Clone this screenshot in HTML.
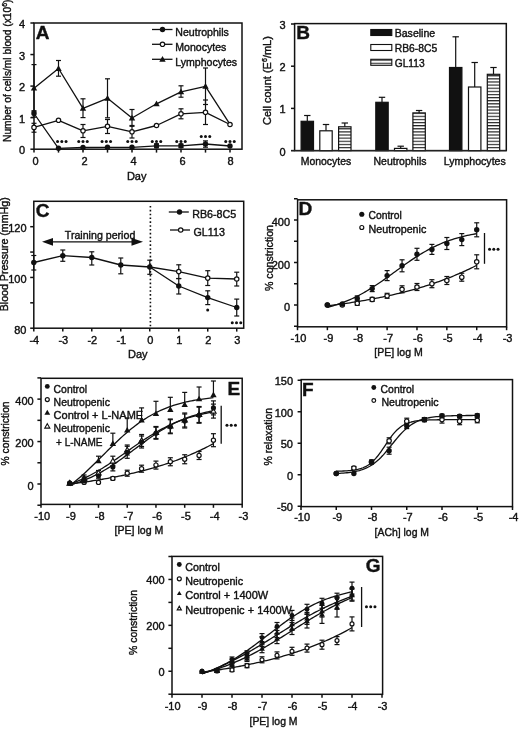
<!DOCTYPE html>
<html><head><meta charset="utf-8"><style>
html,body{margin:0;padding:0;background:#fff;}
svg{display:block;will-change:transform;filter:blur(0.3px);}
text{font-family:"Liberation Sans", sans-serif;stroke:#111;stroke-width:0.4px;}
</style></head><body>
<svg width="520" height="731" viewBox="0 0 520 731">
<rect width="520" height="731" fill="#fff"/>
<rect x="34" y="23" width="208" height="126.2" fill="none" stroke="#111" stroke-width="1.5"/>
<line x1="30.4" y1="149.2" x2="34" y2="149.2" stroke="#111" stroke-width="1.5" />
<line x1="30.4" y1="117.65" x2="34" y2="117.65" stroke="#111" stroke-width="1.5" />
<line x1="30.4" y1="86.1" x2="34" y2="86.1" stroke="#111" stroke-width="1.5" />
<line x1="30.4" y1="54.55" x2="34" y2="54.55" stroke="#111" stroke-width="1.5" />
<line x1="30.4" y1="23" x2="34" y2="23" stroke="#111" stroke-width="1.5" />
<line x1="34" y1="149.2" x2="34" y2="152.6" stroke="#111" stroke-width="1.5" />
<line x1="58.5" y1="149.2" x2="58.5" y2="152.6" stroke="#111" stroke-width="1.5" />
<line x1="83" y1="149.2" x2="83" y2="152.6" stroke="#111" stroke-width="1.5" />
<line x1="107.5" y1="149.2" x2="107.5" y2="152.6" stroke="#111" stroke-width="1.5" />
<line x1="132" y1="149.2" x2="132" y2="152.6" stroke="#111" stroke-width="1.5" />
<line x1="156.5" y1="149.2" x2="156.5" y2="152.6" stroke="#111" stroke-width="1.5" />
<line x1="181" y1="149.2" x2="181" y2="152.6" stroke="#111" stroke-width="1.5" />
<line x1="205.5" y1="149.2" x2="205.5" y2="152.6" stroke="#111" stroke-width="1.5" />
<line x1="230" y1="149.2" x2="230" y2="152.6" stroke="#111" stroke-width="1.5" />
<text x="25" y="154.2" font-size="11" text-anchor="end" fill="#111">0</text>
<text x="25" y="122.65" font-size="11" text-anchor="end" fill="#111">1</text>
<text x="25" y="91.1" font-size="11" text-anchor="end" fill="#111">2</text>
<text x="25" y="59.55" font-size="11" text-anchor="end" fill="#111">3</text>
<text x="25" y="28" font-size="11" text-anchor="end" fill="#111">4</text>
<text x="35.6" y="164.6" font-size="11" text-anchor="middle" fill="#111">0</text>
<text x="84.6" y="164.6" font-size="11" text-anchor="middle" fill="#111">2</text>
<text x="133.6" y="164.6" font-size="11" text-anchor="middle" fill="#111">4</text>
<text x="182.6" y="164.6" font-size="11" text-anchor="middle" fill="#111">6</text>
<text x="230.5" y="164.6" font-size="11" text-anchor="middle" fill="#111">8</text>
<text x="136.7" y="179.5" font-size="11" text-anchor="middle" fill="#111">Day</text>
<text x="10.5" y="142" font-size="11" textLength="142.5" lengthAdjust="spacingAndGlyphs" transform="rotate(-90 10.5 142)" fill="#111">Number of cells/ml blood (x10<tspan font-size="7.5" dy="-4">6</tspan><tspan dy="4">)</tspan></text>
<text x="35.8" y="38.9" font-size="19" font-weight="bold" fill="#111">A</text>
<line x1="34" y1="64.6" x2="34" y2="111.8" stroke="#111" stroke-width="1.2" />
<line x1="31.5" y1="64.6" x2="36.5" y2="64.6" stroke="#111" stroke-width="1.2" />
<line x1="31.5" y1="111.8" x2="36.5" y2="111.8" stroke="#111" stroke-width="1.2" />
<line x1="58.5" y1="60.5" x2="58.5" y2="76.2" stroke="#111" stroke-width="1.2" />
<line x1="56" y1="60.5" x2="61" y2="60.5" stroke="#111" stroke-width="1.2" />
<line x1="56" y1="76.2" x2="61" y2="76.2" stroke="#111" stroke-width="1.2" />
<line x1="83" y1="98.8" x2="83" y2="117.6" stroke="#111" stroke-width="1.2" />
<line x1="80.5" y1="98.8" x2="85.5" y2="98.8" stroke="#111" stroke-width="1.2" />
<line x1="80.5" y1="117.6" x2="85.5" y2="117.6" stroke="#111" stroke-width="1.2" />
<line x1="107.5" y1="78.8" x2="107.5" y2="117.8" stroke="#111" stroke-width="1.2" />
<line x1="105" y1="78.8" x2="110" y2="78.8" stroke="#111" stroke-width="1.2" />
<line x1="105" y1="117.8" x2="110" y2="117.8" stroke="#111" stroke-width="1.2" />
<line x1="132" y1="109.5" x2="132" y2="126.3" stroke="#111" stroke-width="1.2" />
<line x1="129.5" y1="109.5" x2="134.5" y2="109.5" stroke="#111" stroke-width="1.2" />
<line x1="129.5" y1="126.3" x2="134.5" y2="126.3" stroke="#111" stroke-width="1.2" />
<line x1="181" y1="85.8" x2="181" y2="97.2" stroke="#111" stroke-width="1.2" />
<line x1="178.5" y1="85.8" x2="183.5" y2="85.8" stroke="#111" stroke-width="1.2" />
<line x1="178.5" y1="97.2" x2="183.5" y2="97.2" stroke="#111" stroke-width="1.2" />
<line x1="205.5" y1="68" x2="205.5" y2="104.5" stroke="#111" stroke-width="1.2" />
<line x1="203" y1="68" x2="208" y2="68" stroke="#111" stroke-width="1.2" />
<line x1="203" y1="104.5" x2="208" y2="104.5" stroke="#111" stroke-width="1.2" />
<polyline points="34,88.2 58.5,68.5 83,108.3 107.5,98.3 132,118 156.5,103.8 181,91.8 205.5,86.3 230,124.3" fill="none" stroke="#111" stroke-width="1.3" stroke-linejoin="round"/>
<line x1="34" y1="123.3" x2="34" y2="132.2" stroke="#111" stroke-width="1.2" />
<line x1="31.5" y1="123.3" x2="36.5" y2="123.3" stroke="#111" stroke-width="1.2" />
<line x1="31.5" y1="132.2" x2="36.5" y2="132.2" stroke="#111" stroke-width="1.2" />
<line x1="83" y1="124.5" x2="83" y2="137.5" stroke="#111" stroke-width="1.2" />
<line x1="80.5" y1="124.5" x2="85.5" y2="124.5" stroke="#111" stroke-width="1.2" />
<line x1="80.5" y1="137.5" x2="85.5" y2="137.5" stroke="#111" stroke-width="1.2" />
<line x1="107.5" y1="119.5" x2="107.5" y2="133.5" stroke="#111" stroke-width="1.2" />
<line x1="105" y1="119.5" x2="110" y2="119.5" stroke="#111" stroke-width="1.2" />
<line x1="105" y1="133.5" x2="110" y2="133.5" stroke="#111" stroke-width="1.2" />
<line x1="132" y1="125.5" x2="132" y2="138" stroke="#111" stroke-width="1.2" />
<line x1="129.5" y1="125.5" x2="134.5" y2="125.5" stroke="#111" stroke-width="1.2" />
<line x1="129.5" y1="138" x2="134.5" y2="138" stroke="#111" stroke-width="1.2" />
<line x1="181" y1="108.8" x2="181" y2="118.8" stroke="#111" stroke-width="1.2" />
<line x1="178.5" y1="108.8" x2="183.5" y2="108.8" stroke="#111" stroke-width="1.2" />
<line x1="178.5" y1="118.8" x2="183.5" y2="118.8" stroke="#111" stroke-width="1.2" />
<line x1="205.5" y1="100" x2="205.5" y2="124.5" stroke="#111" stroke-width="1.2" />
<line x1="203" y1="100" x2="208" y2="100" stroke="#111" stroke-width="1.2" />
<line x1="203" y1="124.5" x2="208" y2="124.5" stroke="#111" stroke-width="1.2" />
<polyline points="34,127.4 58.5,120.3 83,130.8 107.5,126.3 132,131.8 156.5,125.5 181,113.8 205.5,112.3 230,124.5" fill="none" stroke="#111" stroke-width="1.3" stroke-linejoin="round"/>
<line x1="34" y1="110.7" x2="34" y2="117.2" stroke="#111" stroke-width="1.2" />
<line x1="31.5" y1="110.7" x2="36.5" y2="110.7" stroke="#111" stroke-width="1.2" />
<line x1="31.5" y1="117.2" x2="36.5" y2="117.2" stroke="#111" stroke-width="1.2" />
<line x1="156.5" y1="143.8" x2="156.5" y2="147.8" stroke="#111" stroke-width="1.2" />
<line x1="154" y1="143.8" x2="159" y2="143.8" stroke="#111" stroke-width="1.2" />
<line x1="154" y1="147.8" x2="159" y2="147.8" stroke="#111" stroke-width="1.2" />
<line x1="181" y1="144" x2="181" y2="147.6" stroke="#111" stroke-width="1.2" />
<line x1="178.5" y1="144" x2="183.5" y2="144" stroke="#111" stroke-width="1.2" />
<line x1="178.5" y1="147.6" x2="183.5" y2="147.6" stroke="#111" stroke-width="1.2" />
<line x1="205.5" y1="140.9" x2="205.5" y2="147.2" stroke="#111" stroke-width="1.2" />
<line x1="203" y1="140.9" x2="208" y2="140.9" stroke="#111" stroke-width="1.2" />
<line x1="203" y1="147.2" x2="208" y2="147.2" stroke="#111" stroke-width="1.2" />
<polyline points="34,113.5 58.5,148.3 83,147.5 107.5,147.3 132,147.3 156.5,145.8 181,145.8 205.5,144 230,146" fill="none" stroke="#111" stroke-width="1.3" stroke-linejoin="round"/>
<polygon points="34,85 37.2,90.6 30.8,90.6" fill="#111"/>
<polygon points="58.5,65.3 61.7,70.9 55.3,70.9" fill="#111"/>
<polygon points="83,105.1 86.2,110.7 79.8,110.7" fill="#111"/>
<polygon points="107.5,95.1 110.7,100.7 104.3,100.7" fill="#111"/>
<polygon points="132,114.8 135.2,120.4 128.8,120.4" fill="#111"/>
<polygon points="156.5,100.6 159.7,106.2 153.3,106.2" fill="#111"/>
<polygon points="181,88.6 184.2,94.2 177.8,94.2" fill="#111"/>
<polygon points="205.5,83.1 208.7,88.7 202.3,88.7" fill="#111"/>
<circle cx="34" cy="127.4" r="2.2" fill="#fff" stroke="#111" stroke-width="1.2"/>
<circle cx="58.5" cy="120.3" r="2.2" fill="#fff" stroke="#111" stroke-width="1.2"/>
<circle cx="83" cy="130.8" r="2.2" fill="#fff" stroke="#111" stroke-width="1.2"/>
<circle cx="107.5" cy="126.3" r="2.2" fill="#fff" stroke="#111" stroke-width="1.2"/>
<circle cx="132" cy="131.8" r="2.2" fill="#fff" stroke="#111" stroke-width="1.2"/>
<circle cx="156.5" cy="125.5" r="2.2" fill="#fff" stroke="#111" stroke-width="1.2"/>
<circle cx="181" cy="113.8" r="2.2" fill="#fff" stroke="#111" stroke-width="1.2"/>
<circle cx="205.5" cy="112.3" r="2.2" fill="#fff" stroke="#111" stroke-width="1.2"/>
<circle cx="230" cy="124.5" r="2.2" fill="#fff" stroke="#111" stroke-width="1.2"/>
<circle cx="34" cy="113.5" r="2.7" fill="#111"/>
<circle cx="58.5" cy="148.3" r="2.7" fill="#111"/>
<circle cx="83" cy="147.5" r="2.7" fill="#111"/>
<circle cx="107.5" cy="147.3" r="2.7" fill="#111"/>
<circle cx="132" cy="147.3" r="2.7" fill="#111"/>
<circle cx="156.5" cy="145.8" r="2.7" fill="#111"/>
<circle cx="181" cy="145.8" r="2.7" fill="#111"/>
<circle cx="205.5" cy="144" r="2.7" fill="#111"/>
<circle cx="230" cy="146" r="2.7" fill="#111"/>
<circle cx="57.55" cy="141.4" r="1.5" fill="#111"/>
<circle cx="61.8" cy="141.4" r="1.5" fill="#111"/>
<circle cx="66.05" cy="141.4" r="1.5" fill="#111"/>
<circle cx="78.75" cy="141.4" r="1.5" fill="#111"/>
<circle cx="83" cy="141.4" r="1.5" fill="#111"/>
<circle cx="87.25" cy="141.4" r="1.5" fill="#111"/>
<circle cx="102.05" cy="141.4" r="1.5" fill="#111"/>
<circle cx="106.3" cy="141.4" r="1.5" fill="#111"/>
<circle cx="110.55" cy="141.4" r="1.5" fill="#111"/>
<circle cx="127.75" cy="141.4" r="1.5" fill="#111"/>
<circle cx="132" cy="141.4" r="1.5" fill="#111"/>
<circle cx="136.25" cy="141.4" r="1.5" fill="#111"/>
<circle cx="152.25" cy="141.4" r="1.5" fill="#111"/>
<circle cx="156.5" cy="141.4" r="1.5" fill="#111"/>
<circle cx="160.75" cy="141.4" r="1.5" fill="#111"/>
<circle cx="176.75" cy="141.4" r="1.5" fill="#111"/>
<circle cx="181" cy="141.4" r="1.5" fill="#111"/>
<circle cx="185.25" cy="141.4" r="1.5" fill="#111"/>
<circle cx="201.25" cy="136.4" r="1.5" fill="#111"/>
<circle cx="205.5" cy="136.4" r="1.5" fill="#111"/>
<circle cx="209.75" cy="136.4" r="1.5" fill="#111"/>
<circle cx="225.75" cy="141.4" r="1.5" fill="#111"/>
<circle cx="230" cy="141.4" r="1.5" fill="#111"/>
<circle cx="234.25" cy="141.4" r="1.5" fill="#111"/>
<line x1="152" y1="29.5" x2="172.5" y2="29.5" stroke="#111" stroke-width="1.3" />
<circle cx="162.5" cy="29.5" r="2.7" fill="#111"/>
<text x="175.3" y="36.4" font-size="11" textLength="53.5" lengthAdjust="spacingAndGlyphs" fill="#111">Neutrophils</text>
<line x1="152" y1="44.3" x2="172.5" y2="44.3" stroke="#111" stroke-width="1.3" />
<circle cx="162.5" cy="44.3" r="2.2" fill="#fff" stroke="#111" stroke-width="1.2"/>
<text x="175.3" y="51.2" font-size="11" textLength="51" lengthAdjust="spacingAndGlyphs" fill="#111">Monocytes</text>
<line x1="152" y1="59.3" x2="172.5" y2="59.3" stroke="#111" stroke-width="1.3" />
<polygon points="162.5,56.1 165.7,61.7 159.3,61.7" fill="#111"/>
<text x="175.3" y="66.2" font-size="11" textLength="61.8" lengthAdjust="spacingAndGlyphs" fill="#111">Lymphocytes</text>
<rect x="294.6" y="23.6" width="211.7" height="127" fill="none" stroke="#111" stroke-width="1.5"/>
<line x1="291" y1="150.6" x2="294.6" y2="150.6" stroke="#111" stroke-width="1.5" />
<line x1="291" y1="108.4" x2="294.6" y2="108.4" stroke="#111" stroke-width="1.5" />
<line x1="291" y1="66.2" x2="294.6" y2="66.2" stroke="#111" stroke-width="1.5" />
<line x1="291" y1="24" x2="294.6" y2="24" stroke="#111" stroke-width="1.5" />
<text x="285.7" y="155.6" font-size="11" text-anchor="end" fill="#111">0</text>
<text x="285.7" y="113.4" font-size="11" text-anchor="end" fill="#111">1</text>
<text x="285.7" y="71.2" font-size="11" text-anchor="end" fill="#111">2</text>
<text x="285.7" y="29" font-size="11" text-anchor="end" fill="#111">3</text>
<text x="271.4" y="125" font-size="11" transform="rotate(-90 271.4 125)" fill="#111">Cell count (E<tspan font-size="7" dy="-4">6</tspan><tspan dy="4">/mL)</tspan></text>
<text x="296.3" y="39.1" font-size="19" font-weight="bold" fill="#111">B</text>
<defs><pattern id="hs" patternUnits="userSpaceOnUse" width="4" height="3.12" y="0.3"><rect width="4" height="3.12" fill="#fff"/><rect width="4" height="1.15" fill="#222"/></pattern></defs>
<line x1="307.3" y1="115.5" x2="307.3" y2="121.3" stroke="#111" stroke-width="1.2" />
<line x1="304.1" y1="115.5" x2="310.5" y2="115.5" stroke="#111" stroke-width="1.2" />
<rect x="301.1" y="121.3" width="12.4" height="29.3" fill="#111" stroke="#111" stroke-width="1.2"/>
<line x1="326" y1="124.5" x2="326" y2="130.8" stroke="#111" stroke-width="1.2" />
<line x1="322.8" y1="124.5" x2="329.2" y2="124.5" stroke="#111" stroke-width="1.2" />
<rect x="319.8" y="130.8" width="12.4" height="19.8" fill="#fff" stroke="#111" stroke-width="1.2"/>
<line x1="344.8" y1="123" x2="344.8" y2="126.8" stroke="#111" stroke-width="1.2" />
<line x1="341.6" y1="123" x2="348" y2="123" stroke="#111" stroke-width="1.2" />
<rect x="338.6" y="126.8" width="12.4" height="23.8" fill="url(#hs)" stroke="#111" stroke-width="1.2"/>
<line x1="382" y1="97.3" x2="382" y2="102.3" stroke="#111" stroke-width="1.2" />
<line x1="378.8" y1="97.3" x2="385.2" y2="97.3" stroke="#111" stroke-width="1.2" />
<rect x="375.8" y="102.3" width="12.4" height="48.3" fill="#111" stroke="#111" stroke-width="1.2"/>
<line x1="400.7" y1="146.2" x2="400.7" y2="148.4" stroke="#111" stroke-width="1.2" />
<line x1="397.5" y1="146.2" x2="403.9" y2="146.2" stroke="#111" stroke-width="1.2" />
<rect x="394.5" y="148.4" width="12.4" height="2.2" fill="#fff" stroke="#111" stroke-width="1.2"/>
<line x1="419.1" y1="110.5" x2="419.1" y2="112.9" stroke="#111" stroke-width="1.2" />
<line x1="415.9" y1="110.5" x2="422.3" y2="110.5" stroke="#111" stroke-width="1.2" />
<rect x="412.9" y="112.9" width="12.4" height="37.7" fill="url(#hs)" stroke="#111" stroke-width="1.2"/>
<line x1="455.7" y1="36.8" x2="455.7" y2="67.5" stroke="#111" stroke-width="1.2" />
<line x1="452.5" y1="36.8" x2="458.9" y2="36.8" stroke="#111" stroke-width="1.2" />
<rect x="449.5" y="67.5" width="12.4" height="83.1" fill="#111" stroke="#111" stroke-width="1.2"/>
<line x1="474.7" y1="62.5" x2="474.7" y2="87" stroke="#111" stroke-width="1.2" />
<line x1="471.5" y1="62.5" x2="477.9" y2="62.5" stroke="#111" stroke-width="1.2" />
<rect x="468.5" y="87" width="12.4" height="63.6" fill="#fff" stroke="#111" stroke-width="1.2"/>
<line x1="493.5" y1="67.5" x2="493.5" y2="74.3" stroke="#111" stroke-width="1.2" />
<line x1="490.3" y1="67.5" x2="496.7" y2="67.5" stroke="#111" stroke-width="1.2" />
<rect x="487.3" y="74.3" width="12.4" height="76.3" fill="url(#hs)" stroke="#111" stroke-width="1.2"/>
<line x1="291.2" y1="150.6" x2="506.3" y2="150.6" stroke="#222" stroke-width="1.4" />
<text x="326" y="164.6" font-size="11" text-anchor="middle" textLength="50.5" lengthAdjust="spacingAndGlyphs" fill="#111">Monocytes</text>
<text x="400" y="164.6" font-size="11" text-anchor="middle" textLength="53" lengthAdjust="spacingAndGlyphs" fill="#111">Neutrophils</text>
<text x="474.8" y="164.6" font-size="11" text-anchor="middle" textLength="62" lengthAdjust="spacingAndGlyphs" fill="#111">Lymphocytes</text>
<rect x="370.8" y="29.5" width="21" height="6" fill="#111" stroke="#111" stroke-width="1.1"/>
<text x="394.7" y="36.8" font-size="11" textLength="40.5" lengthAdjust="spacingAndGlyphs" fill="#111">Baseline</text>
<rect x="370.8" y="44.5" width="21" height="6" fill="#fff" stroke="#111" stroke-width="1.1"/>
<text x="394.7" y="51.8" font-size="11" textLength="42.5" lengthAdjust="spacingAndGlyphs" fill="#111">RB6-8C5</text>
<rect x="370.8" y="59.3" width="21" height="6" fill="url(#hs)" stroke="#111" stroke-width="1.1"/>
<text x="394.7" y="66.6" font-size="11" textLength="30" lengthAdjust="spacingAndGlyphs" fill="#111">GL113</text>
<rect x="33.8" y="201.3" width="209.9" height="126.9" fill="none" stroke="#111" stroke-width="1.5"/>
<line x1="30.2" y1="328.2" x2="33.8" y2="328.2" stroke="#111" stroke-width="1.5" />
<line x1="30.2" y1="302.82" x2="33.8" y2="302.82" stroke="#111" stroke-width="1.5" />
<line x1="30.2" y1="277.45" x2="33.8" y2="277.45" stroke="#111" stroke-width="1.5" />
<line x1="30.2" y1="252.07" x2="33.8" y2="252.07" stroke="#111" stroke-width="1.5" />
<line x1="30.2" y1="226.7" x2="33.8" y2="226.7" stroke="#111" stroke-width="1.5" />
<text x="26.5" y="333.9" font-size="11" text-anchor="end" fill="#111">80</text>
<text x="26.5" y="283.15" font-size="11" text-anchor="end" fill="#111">100</text>
<text x="26.5" y="232.4" font-size="11" text-anchor="end" fill="#111">120</text>
<line x1="33.8" y1="328.2" x2="33.8" y2="331.6" stroke="#111" stroke-width="1.5" />
<line x1="62.79" y1="328.2" x2="62.79" y2="331.6" stroke="#111" stroke-width="1.5" />
<line x1="91.78" y1="328.2" x2="91.78" y2="331.6" stroke="#111" stroke-width="1.5" />
<line x1="120.77" y1="328.2" x2="120.77" y2="331.6" stroke="#111" stroke-width="1.5" />
<line x1="149.76" y1="328.2" x2="149.76" y2="331.6" stroke="#111" stroke-width="1.5" />
<line x1="178.75" y1="328.2" x2="178.75" y2="331.6" stroke="#111" stroke-width="1.5" />
<line x1="207.74" y1="328.2" x2="207.74" y2="331.6" stroke="#111" stroke-width="1.5" />
<line x1="236.73" y1="328.2" x2="236.73" y2="331.6" stroke="#111" stroke-width="1.5" />
<text x="34.3" y="343.9" font-size="11" text-anchor="middle" fill="#111">-4</text>
<text x="63.29" y="343.9" font-size="11" text-anchor="middle" fill="#111">-3</text>
<text x="92.28" y="343.9" font-size="11" text-anchor="middle" fill="#111">-2</text>
<text x="121.27" y="343.9" font-size="11" text-anchor="middle" fill="#111">-1</text>
<text x="150.26" y="343.9" font-size="11" text-anchor="middle" fill="#111">0</text>
<text x="179.25" y="343.9" font-size="11" text-anchor="middle" fill="#111">1</text>
<text x="208.24" y="343.9" font-size="11" text-anchor="middle" fill="#111">2</text>
<text x="237.23" y="343.9" font-size="11" text-anchor="middle" fill="#111">3</text>
<text x="137.8" y="358" font-size="11" text-anchor="middle" fill="#111">Day</text>
<text x="8.3" y="311.3" font-size="11" textLength="114" lengthAdjust="spacingAndGlyphs" transform="rotate(-90 8.3 311.3)" fill="#111">Blood Pressure (mmHg)</text>
<text x="35.7" y="217.4" font-size="19" font-weight="bold" fill="#111">C</text>
<line x1="150.4" y1="206" x2="150.4" y2="328.2" stroke="#111" stroke-width="1.6" stroke-dasharray="1.6,2.23"/>
<line x1="50" y1="241.8" x2="136" y2="241.8" stroke="#111" stroke-width="1.3" />
<polygon points="42,241.8 53,237.9 53,245.7" fill="#111"/>
<polygon points="143,241.8 131.5,237.9 131.5,245.7" fill="#111"/>
<text x="64.8" y="238.8" font-size="11" textLength="70.5" lengthAdjust="spacingAndGlyphs" fill="#111">Training period</text>
<line x1="33.8" y1="255.5" x2="33.8" y2="270" stroke="#111" stroke-width="1.2" />
<line x1="31.3" y1="255.5" x2="36.3" y2="255.5" stroke="#111" stroke-width="1.2" />
<line x1="31.3" y1="270" x2="36.3" y2="270" stroke="#111" stroke-width="1.2" />
<line x1="62.79" y1="250" x2="62.79" y2="261.3" stroke="#111" stroke-width="1.2" />
<line x1="60.29" y1="250" x2="65.29" y2="250" stroke="#111" stroke-width="1.2" />
<line x1="60.29" y1="261.3" x2="65.29" y2="261.3" stroke="#111" stroke-width="1.2" />
<line x1="91.78" y1="251.8" x2="91.78" y2="265" stroke="#111" stroke-width="1.2" />
<line x1="89.28" y1="251.8" x2="94.28" y2="251.8" stroke="#111" stroke-width="1.2" />
<line x1="89.28" y1="265" x2="94.28" y2="265" stroke="#111" stroke-width="1.2" />
<line x1="120.77" y1="258" x2="120.77" y2="273.8" stroke="#111" stroke-width="1.2" />
<line x1="118.27" y1="258" x2="123.27" y2="258" stroke="#111" stroke-width="1.2" />
<line x1="118.27" y1="273.8" x2="123.27" y2="273.8" stroke="#111" stroke-width="1.2" />
<line x1="149.76" y1="260.2" x2="149.76" y2="274.3" stroke="#111" stroke-width="1.2" />
<line x1="147.26" y1="260.2" x2="152.26" y2="260.2" stroke="#111" stroke-width="1.2" />
<line x1="147.26" y1="274.3" x2="152.26" y2="274.3" stroke="#111" stroke-width="1.2" />
<line x1="178.75" y1="278.6" x2="178.75" y2="294" stroke="#111" stroke-width="1.2" />
<line x1="176.25" y1="278.6" x2="181.25" y2="278.6" stroke="#111" stroke-width="1.2" />
<line x1="176.25" y1="294" x2="181.25" y2="294" stroke="#111" stroke-width="1.2" />
<line x1="207.74" y1="290.8" x2="207.74" y2="304.6" stroke="#111" stroke-width="1.2" />
<line x1="205.24" y1="290.8" x2="210.24" y2="290.8" stroke="#111" stroke-width="1.2" />
<line x1="205.24" y1="304.6" x2="210.24" y2="304.6" stroke="#111" stroke-width="1.2" />
<line x1="236.73" y1="299.1" x2="236.73" y2="316" stroke="#111" stroke-width="1.2" />
<line x1="234.23" y1="299.1" x2="239.23" y2="299.1" stroke="#111" stroke-width="1.2" />
<line x1="234.23" y1="316" x2="239.23" y2="316" stroke="#111" stroke-width="1.2" />
<line x1="178.75" y1="264.8" x2="178.75" y2="278.5" stroke="#111" stroke-width="1.2" />
<line x1="176.25" y1="264.8" x2="181.25" y2="264.8" stroke="#111" stroke-width="1.2" />
<line x1="176.25" y1="278.5" x2="181.25" y2="278.5" stroke="#111" stroke-width="1.2" />
<line x1="207.74" y1="270.7" x2="207.74" y2="285.5" stroke="#111" stroke-width="1.2" />
<line x1="205.24" y1="270.7" x2="210.24" y2="270.7" stroke="#111" stroke-width="1.2" />
<line x1="205.24" y1="285.5" x2="210.24" y2="285.5" stroke="#111" stroke-width="1.2" />
<line x1="236.73" y1="272.2" x2="236.73" y2="286" stroke="#111" stroke-width="1.2" />
<line x1="234.23" y1="272.2" x2="239.23" y2="272.2" stroke="#111" stroke-width="1.2" />
<line x1="234.23" y1="286" x2="239.23" y2="286" stroke="#111" stroke-width="1.2" />
<polyline points="33.8,262.5 62.79,255.7 91.78,257.5 120.77,265 149.76,267" fill="none" stroke="#111" stroke-width="1.3" stroke-linejoin="round"/>
<polyline points="149.76,267 178.75,286 207.74,297.6 236.73,307.5" fill="none" stroke="#111" stroke-width="1.3" stroke-linejoin="round"/>
<polyline points="149.76,267 178.75,271.6 207.74,278.1 236.73,279" fill="none" stroke="#111" stroke-width="1.3" stroke-linejoin="round"/>
<circle cx="33.8" cy="262.5" r="2.7" fill="#111"/>
<circle cx="62.79" cy="255.7" r="2.7" fill="#111"/>
<circle cx="91.78" cy="257.5" r="2.7" fill="#111"/>
<circle cx="120.77" cy="265" r="2.7" fill="#111"/>
<circle cx="149.76" cy="267" r="2.7" fill="#111"/>
<circle cx="178.75" cy="286" r="2.7" fill="#111"/>
<circle cx="207.74" cy="297.6" r="2.7" fill="#111"/>
<circle cx="236.73" cy="307.5" r="2.7" fill="#111"/>
<circle cx="178.75" cy="271.6" r="2.2" fill="#fff" stroke="#111" stroke-width="1.2"/>
<circle cx="207.74" cy="278.1" r="2.2" fill="#fff" stroke="#111" stroke-width="1.2"/>
<circle cx="236.73" cy="279" r="2.2" fill="#fff" stroke="#111" stroke-width="1.2"/>
<circle cx="207.7" cy="309.9" r="1.5" fill="#111"/>
<circle cx="232.25" cy="322.7" r="1.5" fill="#111"/>
<circle cx="236.5" cy="322.7" r="1.5" fill="#111"/>
<circle cx="240.75" cy="322.7" r="1.5" fill="#111"/>
<line x1="168.8" y1="212" x2="188.8" y2="212" stroke="#111" stroke-width="1.3" />
<circle cx="179.5" cy="212" r="2.7" fill="#111"/>
<text x="192.2" y="217.6" font-size="11" textLength="44" lengthAdjust="spacingAndGlyphs" fill="#111">RB6-8C5</text>
<line x1="170" y1="230" x2="190" y2="230" stroke="#111" stroke-width="1.3" />
<circle cx="180.7" cy="230" r="2.2" fill="#fff" stroke="#111" stroke-width="1.2"/>
<text x="193.4" y="236.2" font-size="11" textLength="31.5" lengthAdjust="spacingAndGlyphs" fill="#111">GL113</text>
<rect x="297.6" y="199.8" width="209" height="127" fill="none" stroke="#111" stroke-width="1.5"/>
<line x1="294" y1="326.25" x2="297.6" y2="326.25" stroke="#111" stroke-width="1.5" />
<line x1="294" y1="305" x2="297.6" y2="305" stroke="#111" stroke-width="1.5" />
<line x1="294" y1="283.75" x2="297.6" y2="283.75" stroke="#111" stroke-width="1.5" />
<line x1="294" y1="262.5" x2="297.6" y2="262.5" stroke="#111" stroke-width="1.5" />
<line x1="294" y1="241.25" x2="297.6" y2="241.25" stroke="#111" stroke-width="1.5" />
<line x1="294" y1="220" x2="297.6" y2="220" stroke="#111" stroke-width="1.5" />
<line x1="294" y1="198.75" x2="297.6" y2="198.75" stroke="#111" stroke-width="1.5" />
<text x="290" y="311.2" font-size="11" text-anchor="end" fill="#111">0</text>
<text x="290" y="268.7" font-size="11" text-anchor="end" fill="#111">200</text>
<text x="290" y="226.2" font-size="11" text-anchor="end" fill="#111">400</text>
<line x1="297.5" y1="326.8" x2="297.5" y2="330.2" stroke="#111" stroke-width="1.5" />
<line x1="327.37" y1="326.8" x2="327.37" y2="330.2" stroke="#111" stroke-width="1.5" />
<line x1="357.24" y1="326.8" x2="357.24" y2="330.2" stroke="#111" stroke-width="1.5" />
<line x1="387.11" y1="326.8" x2="387.11" y2="330.2" stroke="#111" stroke-width="1.5" />
<line x1="416.98" y1="326.8" x2="416.98" y2="330.2" stroke="#111" stroke-width="1.5" />
<line x1="446.85" y1="326.8" x2="446.85" y2="330.2" stroke="#111" stroke-width="1.5" />
<line x1="476.72" y1="326.8" x2="476.72" y2="330.2" stroke="#111" stroke-width="1.5" />
<line x1="506.59" y1="326.8" x2="506.59" y2="330.2" stroke="#111" stroke-width="1.5" />
<text x="298.5" y="341.6" font-size="11" text-anchor="middle" fill="#111">-10</text>
<text x="328.37" y="341.6" font-size="11" text-anchor="middle" fill="#111">-9</text>
<text x="358.24" y="341.6" font-size="11" text-anchor="middle" fill="#111">-8</text>
<text x="388.11" y="341.6" font-size="11" text-anchor="middle" fill="#111">-7</text>
<text x="417.98" y="341.6" font-size="11" text-anchor="middle" fill="#111">-6</text>
<text x="447.85" y="341.6" font-size="11" text-anchor="middle" fill="#111">-5</text>
<text x="477.72" y="341.6" font-size="11" text-anchor="middle" fill="#111">-4</text>
<text x="507.59" y="341.6" font-size="11" text-anchor="middle" fill="#111">-3</text>
<text x="398.5" y="355.6" font-size="11" text-anchor="middle" textLength="48.5" lengthAdjust="spacingAndGlyphs" fill="#111">[PE] log M</text>
<text x="273.3" y="291" font-size="11" textLength="66" lengthAdjust="spacingAndGlyphs" transform="rotate(-90 273.3 291)" fill="#111">% constriction</text>
<text x="298.6" y="215.4" font-size="19" font-weight="bold" fill="#111">D</text>
<line x1="357.24" y1="295.9" x2="357.24" y2="300.9" stroke="#111" stroke-width="1.2" />
<line x1="354.74" y1="295.9" x2="359.74" y2="295.9" stroke="#111" stroke-width="1.2" />
<line x1="354.74" y1="300.9" x2="359.74" y2="300.9" stroke="#111" stroke-width="1.2" />
<line x1="372.18" y1="285.6" x2="372.18" y2="291.6" stroke="#111" stroke-width="1.2" />
<line x1="369.68" y1="285.6" x2="374.68" y2="285.6" stroke="#111" stroke-width="1.2" />
<line x1="369.68" y1="291.6" x2="374.68" y2="291.6" stroke="#111" stroke-width="1.2" />
<line x1="387.11" y1="270.6" x2="387.11" y2="280.6" stroke="#111" stroke-width="1.2" />
<line x1="384.61" y1="270.6" x2="389.61" y2="270.6" stroke="#111" stroke-width="1.2" />
<line x1="384.61" y1="280.6" x2="389.61" y2="280.6" stroke="#111" stroke-width="1.2" />
<line x1="402.05" y1="259.8" x2="402.05" y2="271.8" stroke="#111" stroke-width="1.2" />
<line x1="399.55" y1="259.8" x2="404.55" y2="259.8" stroke="#111" stroke-width="1.2" />
<line x1="399.55" y1="271.8" x2="404.55" y2="271.8" stroke="#111" stroke-width="1.2" />
<line x1="416.98" y1="248.3" x2="416.98" y2="260.3" stroke="#111" stroke-width="1.2" />
<line x1="414.48" y1="248.3" x2="419.48" y2="248.3" stroke="#111" stroke-width="1.2" />
<line x1="414.48" y1="260.3" x2="419.48" y2="260.3" stroke="#111" stroke-width="1.2" />
<line x1="431.91" y1="244.4" x2="431.91" y2="254.4" stroke="#111" stroke-width="1.2" />
<line x1="429.41" y1="244.4" x2="434.41" y2="244.4" stroke="#111" stroke-width="1.2" />
<line x1="429.41" y1="254.4" x2="434.41" y2="254.4" stroke="#111" stroke-width="1.2" />
<line x1="446.85" y1="237.5" x2="446.85" y2="249.5" stroke="#111" stroke-width="1.2" />
<line x1="444.35" y1="237.5" x2="449.35" y2="237.5" stroke="#111" stroke-width="1.2" />
<line x1="444.35" y1="249.5" x2="449.35" y2="249.5" stroke="#111" stroke-width="1.2" />
<line x1="461.78" y1="233.6" x2="461.78" y2="245.6" stroke="#111" stroke-width="1.2" />
<line x1="459.28" y1="233.6" x2="464.28" y2="233.6" stroke="#111" stroke-width="1.2" />
<line x1="459.28" y1="245.6" x2="464.28" y2="245.6" stroke="#111" stroke-width="1.2" />
<line x1="476.72" y1="222.8" x2="476.72" y2="236.8" stroke="#111" stroke-width="1.2" />
<line x1="474.22" y1="222.8" x2="479.22" y2="222.8" stroke="#111" stroke-width="1.2" />
<line x1="474.22" y1="236.8" x2="479.22" y2="236.8" stroke="#111" stroke-width="1.2" />
<line x1="357.24" y1="301.3" x2="357.24" y2="305.3" stroke="#111" stroke-width="1.2" />
<line x1="354.74" y1="301.3" x2="359.74" y2="301.3" stroke="#111" stroke-width="1.2" />
<line x1="354.74" y1="305.3" x2="359.74" y2="305.3" stroke="#111" stroke-width="1.2" />
<line x1="372.18" y1="297.4" x2="372.18" y2="301.4" stroke="#111" stroke-width="1.2" />
<line x1="369.68" y1="297.4" x2="374.68" y2="297.4" stroke="#111" stroke-width="1.2" />
<line x1="369.68" y1="301.4" x2="374.68" y2="301.4" stroke="#111" stroke-width="1.2" />
<line x1="387.11" y1="293.3" x2="387.11" y2="298.3" stroke="#111" stroke-width="1.2" />
<line x1="384.61" y1="293.3" x2="389.61" y2="293.3" stroke="#111" stroke-width="1.2" />
<line x1="384.61" y1="298.3" x2="389.61" y2="298.3" stroke="#111" stroke-width="1.2" />
<line x1="402.05" y1="285.8" x2="402.05" y2="292.8" stroke="#111" stroke-width="1.2" />
<line x1="399.55" y1="285.8" x2="404.55" y2="285.8" stroke="#111" stroke-width="1.2" />
<line x1="399.55" y1="292.8" x2="404.55" y2="292.8" stroke="#111" stroke-width="1.2" />
<line x1="416.98" y1="283.5" x2="416.98" y2="290.5" stroke="#111" stroke-width="1.2" />
<line x1="414.48" y1="283.5" x2="419.48" y2="283.5" stroke="#111" stroke-width="1.2" />
<line x1="414.48" y1="290.5" x2="419.48" y2="290.5" stroke="#111" stroke-width="1.2" />
<line x1="431.91" y1="279.7" x2="431.91" y2="287.7" stroke="#111" stroke-width="1.2" />
<line x1="429.41" y1="279.7" x2="434.41" y2="279.7" stroke="#111" stroke-width="1.2" />
<line x1="429.41" y1="287.7" x2="434.41" y2="287.7" stroke="#111" stroke-width="1.2" />
<line x1="446.85" y1="276.5" x2="446.85" y2="284.5" stroke="#111" stroke-width="1.2" />
<line x1="444.35" y1="276.5" x2="449.35" y2="276.5" stroke="#111" stroke-width="1.2" />
<line x1="444.35" y1="284.5" x2="449.35" y2="284.5" stroke="#111" stroke-width="1.2" />
<line x1="461.78" y1="273.2" x2="461.78" y2="281.2" stroke="#111" stroke-width="1.2" />
<line x1="459.28" y1="273.2" x2="464.28" y2="273.2" stroke="#111" stroke-width="1.2" />
<line x1="459.28" y1="281.2" x2="464.28" y2="281.2" stroke="#111" stroke-width="1.2" />
<line x1="476.72" y1="254.8" x2="476.72" y2="268.8" stroke="#111" stroke-width="1.2" />
<line x1="474.22" y1="254.8" x2="479.22" y2="254.8" stroke="#111" stroke-width="1.2" />
<line x1="474.22" y1="268.8" x2="479.22" y2="268.8" stroke="#111" stroke-width="1.2" />
<polyline points="327.37,307.31 329.26,306.82 331.15,306.3 333.04,305.76 334.93,305.2 336.82,304.6 338.71,303.98 340.6,303.32 342.49,302.64 344.38,301.92 346.28,301.18 348.17,300.4 350.06,299.59 351.95,298.74 353.84,297.86 355.73,296.95 357.62,296.01 359.51,295.03 361.4,294.02 363.29,292.97 365.18,291.89 367.07,290.79 368.96,289.65 370.85,288.48 372.74,287.28 374.63,286.06 376.52,284.81 378.41,283.54 380.3,282.25 382.19,280.93 384.09,279.6 385.98,278.26 387.87,276.9 389.76,275.54 391.65,274.16 393.54,272.79 395.43,271.41 397.32,270.03 399.21,268.66 401.1,267.29 402.99,265.93 404.88,264.59 406.77,263.26 408.66,261.94 410.55,260.65 412.44,259.37 414.33,258.12 416.22,256.9 418.11,255.7 420,254.53 421.9,253.39 423.79,252.28 425.68,251.2 427.57,250.15 429.46,249.13 431.35,248.15 433.24,247.2 435.13,246.29 437.02,245.41 438.91,244.56 440.8,243.75 442.69,242.96 444.58,242.21 446.47,241.5 448.36,240.81 450.25,240.15 452.14,239.53 454.03,238.93 455.92,238.36 457.81,237.82 459.71,237.3 461.6,236.81 463.49,236.34 465.38,235.9 467.27,235.48 469.16,235.08 471.05,234.7 472.94,234.35 474.83,234.01 476.72,233.69" fill="none" stroke="#111" stroke-width="1.3" stroke-linejoin="round"/>
<polyline points="327.37,305.83 329.26,305.6 331.15,305.37 333.04,305.13 334.93,304.88 336.82,304.64 338.71,304.38 340.6,304.13 342.49,303.86 344.38,303.6 346.28,303.33 348.17,303.05 350.06,302.77 351.95,302.48 353.84,302.19 355.73,301.89 357.62,301.59 359.51,301.28 361.4,300.96 363.29,300.64 365.18,300.32 367.07,299.98 368.96,299.64 370.85,299.3 372.74,298.95 374.63,298.59 376.52,298.23 378.41,297.85 380.3,297.48 382.19,297.09 384.09,296.7 385.98,296.3 387.87,295.89 389.76,295.48 391.65,295.06 393.54,294.63 395.43,294.19 397.32,293.74 399.21,293.29 401.1,292.83 402.99,292.36 404.88,291.88 406.77,291.39 408.66,290.89 410.55,290.39 412.44,289.87 414.33,289.34 416.22,288.81 418.11,288.26 420,287.71 421.9,287.14 423.79,286.57 425.68,285.98 427.57,285.38 429.46,284.77 431.35,284.15 433.24,283.52 435.13,282.88 437.02,282.23 438.91,281.56 440.8,280.88 442.69,280.19 444.58,279.48 446.47,278.77 448.36,278.04 450.25,277.29 452.14,276.53 454.03,275.76 455.92,274.97 457.81,274.17 459.71,273.36 461.6,272.53 463.49,271.68 465.38,270.82 467.27,269.94 469.16,269.05 471.05,268.14 472.94,267.21 474.83,266.27 476.72,265.3" fill="none" stroke="#111" stroke-width="1.3" stroke-linejoin="round"/>
<circle cx="327.37" cy="305" r="2.2" fill="#fff" stroke="#111" stroke-width="1.2"/>
<circle cx="342.31" cy="305" r="2.2" fill="#fff" stroke="#111" stroke-width="1.2"/>
<circle cx="357.24" cy="303.3" r="2.2" fill="#fff" stroke="#111" stroke-width="1.2"/>
<circle cx="372.18" cy="299.4" r="2.2" fill="#fff" stroke="#111" stroke-width="1.2"/>
<circle cx="387.11" cy="295.8" r="2.2" fill="#fff" stroke="#111" stroke-width="1.2"/>
<circle cx="402.05" cy="289.3" r="2.2" fill="#fff" stroke="#111" stroke-width="1.2"/>
<circle cx="416.98" cy="287" r="2.2" fill="#fff" stroke="#111" stroke-width="1.2"/>
<circle cx="431.91" cy="283.7" r="2.2" fill="#fff" stroke="#111" stroke-width="1.2"/>
<circle cx="446.85" cy="280.5" r="2.2" fill="#fff" stroke="#111" stroke-width="1.2"/>
<circle cx="461.78" cy="277.2" r="2.2" fill="#fff" stroke="#111" stroke-width="1.2"/>
<circle cx="476.72" cy="261.8" r="2.2" fill="#fff" stroke="#111" stroke-width="1.2"/>
<circle cx="327.37" cy="305" r="2.7" fill="#111"/>
<circle cx="342.31" cy="304" r="2.7" fill="#111"/>
<circle cx="357.24" cy="298.4" r="2.7" fill="#111"/>
<circle cx="372.18" cy="288.6" r="2.7" fill="#111"/>
<circle cx="387.11" cy="275.6" r="2.7" fill="#111"/>
<circle cx="402.05" cy="265.8" r="2.7" fill="#111"/>
<circle cx="416.98" cy="254.3" r="2.7" fill="#111"/>
<circle cx="431.91" cy="249.4" r="2.7" fill="#111"/>
<circle cx="446.85" cy="243.5" r="2.7" fill="#111"/>
<circle cx="461.78" cy="239.6" r="2.7" fill="#111"/>
<circle cx="476.72" cy="229.8" r="2.7" fill="#111"/>
<line x1="484.5" y1="233" x2="484.5" y2="263.8" stroke="#111" stroke-width="1.3" />
<circle cx="489.55" cy="249.2" r="1.5" fill="#111"/>
<circle cx="493.8" cy="249.2" r="1.5" fill="#111"/>
<circle cx="498.05" cy="249.2" r="1.5" fill="#111"/>
<circle cx="361.8" cy="214.3" r="2.56" fill="#111"/>
<text x="368.5" y="219.3" font-size="11" textLength="33.3" lengthAdjust="spacingAndGlyphs" fill="#111">Control</text>
<circle cx="361.8" cy="227.5" r="1.98" fill="#fff" stroke="#111" stroke-width="1.2"/>
<text x="368.5" y="232.5" font-size="11" textLength="57.8" lengthAdjust="spacingAndGlyphs" fill="#111">Neutropenic</text>
<rect x="41" y="378.3" width="201.2" height="126.1" fill="none" stroke="#111" stroke-width="1.5"/>
<line x1="37.4" y1="505.22" x2="41" y2="505.22" stroke="#111" stroke-width="1.5" />
<line x1="37.4" y1="484" x2="41" y2="484" stroke="#111" stroke-width="1.5" />
<line x1="37.4" y1="462.78" x2="41" y2="462.78" stroke="#111" stroke-width="1.5" />
<line x1="37.4" y1="441.56" x2="41" y2="441.56" stroke="#111" stroke-width="1.5" />
<line x1="37.4" y1="420.34" x2="41" y2="420.34" stroke="#111" stroke-width="1.5" />
<line x1="37.4" y1="399.12" x2="41" y2="399.12" stroke="#111" stroke-width="1.5" />
<line x1="37.4" y1="377.9" x2="41" y2="377.9" stroke="#111" stroke-width="1.5" />
<text x="33.7" y="489.5" font-size="11" text-anchor="end" fill="#111">0</text>
<text x="33.7" y="447.06" font-size="11" text-anchor="end" fill="#111">200</text>
<text x="33.7" y="404.62" font-size="11" text-anchor="end" fill="#111">400</text>
<line x1="41" y1="504.4" x2="41" y2="507.8" stroke="#111" stroke-width="1.5" />
<line x1="69.74" y1="504.4" x2="69.74" y2="507.8" stroke="#111" stroke-width="1.5" />
<line x1="98.48" y1="504.4" x2="98.48" y2="507.8" stroke="#111" stroke-width="1.5" />
<line x1="127.22" y1="504.4" x2="127.22" y2="507.8" stroke="#111" stroke-width="1.5" />
<line x1="155.96" y1="504.4" x2="155.96" y2="507.8" stroke="#111" stroke-width="1.5" />
<line x1="184.7" y1="504.4" x2="184.7" y2="507.8" stroke="#111" stroke-width="1.5" />
<line x1="213.44" y1="504.4" x2="213.44" y2="507.8" stroke="#111" stroke-width="1.5" />
<line x1="242.18" y1="504.4" x2="242.18" y2="507.8" stroke="#111" stroke-width="1.5" />
<text x="42.2" y="520.2" font-size="11" text-anchor="middle" fill="#111">-10</text>
<text x="70.94" y="520.2" font-size="11" text-anchor="middle" fill="#111">-9</text>
<text x="99.68" y="520.2" font-size="11" text-anchor="middle" fill="#111">-8</text>
<text x="128.42" y="520.2" font-size="11" text-anchor="middle" fill="#111">-7</text>
<text x="157.16" y="520.2" font-size="11" text-anchor="middle" fill="#111">-6</text>
<text x="185.9" y="520.2" font-size="11" text-anchor="middle" fill="#111">-5</text>
<text x="214.64" y="520.2" font-size="11" text-anchor="middle" fill="#111">-4</text>
<text x="243.38" y="520.2" font-size="11" text-anchor="middle" fill="#111">-3</text>
<text x="138.9" y="534.3" font-size="11" text-anchor="middle" textLength="48.8" lengthAdjust="spacingAndGlyphs" fill="#111">[PE] log M</text>
<text x="8.8" y="465.4" font-size="11" textLength="64" lengthAdjust="spacingAndGlyphs" transform="rotate(-90 8.8 465.4)" fill="#111">% constriction</text>
<text x="227.4" y="394.6" font-size="19" font-weight="bold" fill="#111">E</text>
<line x1="84.11" y1="475" x2="84.11" y2="477.5" stroke="#111" stroke-width="1.2" />
<line x1="81.61" y1="475" x2="86.61" y2="475" stroke="#111" stroke-width="1.2" />
<line x1="98.48" y1="456.2" x2="98.48" y2="460.9" stroke="#111" stroke-width="1.2" />
<line x1="95.98" y1="456.2" x2="100.98" y2="456.2" stroke="#111" stroke-width="1.2" />
<line x1="112.85" y1="433.2" x2="112.85" y2="443.5" stroke="#111" stroke-width="1.2" />
<line x1="110.35" y1="433.2" x2="115.35" y2="433.2" stroke="#111" stroke-width="1.2" />
<line x1="127.22" y1="418" x2="127.22" y2="430.1" stroke="#111" stroke-width="1.2" />
<line x1="124.72" y1="418" x2="129.72" y2="418" stroke="#111" stroke-width="1.2" />
<line x1="141.59" y1="407.9" x2="141.59" y2="420.1" stroke="#111" stroke-width="1.2" />
<line x1="139.09" y1="407.9" x2="144.09" y2="407.9" stroke="#111" stroke-width="1.2" />
<line x1="155.96" y1="401.3" x2="155.96" y2="413.6" stroke="#111" stroke-width="1.2" />
<line x1="153.46" y1="401.3" x2="158.46" y2="401.3" stroke="#111" stroke-width="1.2" />
<line x1="170.33" y1="397.3" x2="170.33" y2="409.5" stroke="#111" stroke-width="1.2" />
<line x1="167.83" y1="397.3" x2="172.83" y2="397.3" stroke="#111" stroke-width="1.2" />
<line x1="184.7" y1="392.4" x2="184.7" y2="404.6" stroke="#111" stroke-width="1.2" />
<line x1="182.2" y1="392.4" x2="187.2" y2="392.4" stroke="#111" stroke-width="1.2" />
<line x1="199.07" y1="387" x2="199.07" y2="398.9" stroke="#111" stroke-width="1.2" />
<line x1="196.57" y1="387" x2="201.57" y2="387" stroke="#111" stroke-width="1.2" />
<line x1="213.44" y1="381" x2="213.44" y2="394.8" stroke="#111" stroke-width="1.2" />
<line x1="210.94" y1="381" x2="215.94" y2="381" stroke="#111" stroke-width="1.2" />
<line x1="98.48" y1="481.4" x2="98.48" y2="483.4" stroke="#111" stroke-width="1.2" />
<line x1="95.98" y1="481.4" x2="100.98" y2="481.4" stroke="#111" stroke-width="1.2" />
<line x1="95.98" y1="483.4" x2="100.98" y2="483.4" stroke="#111" stroke-width="1.2" />
<line x1="112.85" y1="476.9" x2="112.85" y2="479.9" stroke="#111" stroke-width="1.2" />
<line x1="110.35" y1="476.9" x2="115.35" y2="476.9" stroke="#111" stroke-width="1.2" />
<line x1="110.35" y1="479.9" x2="115.35" y2="479.9" stroke="#111" stroke-width="1.2" />
<line x1="127.22" y1="470.2" x2="127.22" y2="476.2" stroke="#111" stroke-width="1.2" />
<line x1="124.72" y1="470.2" x2="129.72" y2="470.2" stroke="#111" stroke-width="1.2" />
<line x1="124.72" y1="476.2" x2="129.72" y2="476.2" stroke="#111" stroke-width="1.2" />
<line x1="141.59" y1="465.2" x2="141.59" y2="472.2" stroke="#111" stroke-width="1.2" />
<line x1="139.09" y1="465.2" x2="144.09" y2="465.2" stroke="#111" stroke-width="1.2" />
<line x1="139.09" y1="472.2" x2="144.09" y2="472.2" stroke="#111" stroke-width="1.2" />
<line x1="155.96" y1="461.1" x2="155.96" y2="469.1" stroke="#111" stroke-width="1.2" />
<line x1="153.46" y1="461.1" x2="158.46" y2="461.1" stroke="#111" stroke-width="1.2" />
<line x1="153.46" y1="469.1" x2="158.46" y2="469.1" stroke="#111" stroke-width="1.2" />
<line x1="170.33" y1="457.75" x2="170.33" y2="465.75" stroke="#111" stroke-width="1.2" />
<line x1="167.83" y1="457.75" x2="172.83" y2="457.75" stroke="#111" stroke-width="1.2" />
<line x1="167.83" y1="465.75" x2="172.83" y2="465.75" stroke="#111" stroke-width="1.2" />
<line x1="184.7" y1="454.75" x2="184.7" y2="463.75" stroke="#111" stroke-width="1.2" />
<line x1="182.2" y1="454.75" x2="187.2" y2="454.75" stroke="#111" stroke-width="1.2" />
<line x1="182.2" y1="463.75" x2="187.2" y2="463.75" stroke="#111" stroke-width="1.2" />
<line x1="199.07" y1="451.5" x2="199.07" y2="459.5" stroke="#111" stroke-width="1.2" />
<line x1="196.57" y1="451.5" x2="201.57" y2="451.5" stroke="#111" stroke-width="1.2" />
<line x1="196.57" y1="459.5" x2="201.57" y2="459.5" stroke="#111" stroke-width="1.2" />
<line x1="213.44" y1="433.7" x2="213.44" y2="446.7" stroke="#111" stroke-width="1.2" />
<line x1="210.94" y1="433.7" x2="215.94" y2="433.7" stroke="#111" stroke-width="1.2" />
<line x1="210.94" y1="446.7" x2="215.94" y2="446.7" stroke="#111" stroke-width="1.2" />
<line x1="84.11" y1="477" x2="84.11" y2="480" stroke="#111" stroke-width="1.2" />
<line x1="81.61" y1="477" x2="86.61" y2="477" stroke="#111" stroke-width="1.2" />
<line x1="81.61" y1="480" x2="86.61" y2="480" stroke="#111" stroke-width="1.2" />
<line x1="98.48" y1="470.5" x2="98.48" y2="475.5" stroke="#111" stroke-width="1.2" />
<line x1="95.98" y1="470.5" x2="100.98" y2="470.5" stroke="#111" stroke-width="1.2" />
<line x1="95.98" y1="475.5" x2="100.98" y2="475.5" stroke="#111" stroke-width="1.2" />
<line x1="112.85" y1="456.2" x2="112.85" y2="465.8" stroke="#111" stroke-width="1.2" />
<line x1="110.35" y1="456.2" x2="115.35" y2="456.2" stroke="#111" stroke-width="1.2" />
<line x1="110.35" y1="465.8" x2="115.35" y2="465.8" stroke="#111" stroke-width="1.2" />
<line x1="127.22" y1="445" x2="127.22" y2="455" stroke="#111" stroke-width="1.2" />
<line x1="124.72" y1="445" x2="129.72" y2="445" stroke="#111" stroke-width="1.2" />
<line x1="124.72" y1="455" x2="129.72" y2="455" stroke="#111" stroke-width="1.2" />
<line x1="141.59" y1="434.5" x2="141.59" y2="446.5" stroke="#111" stroke-width="1.2" />
<line x1="139.09" y1="434.5" x2="144.09" y2="434.5" stroke="#111" stroke-width="1.2" />
<line x1="139.09" y1="446.5" x2="144.09" y2="446.5" stroke="#111" stroke-width="1.2" />
<line x1="155.96" y1="426.5" x2="155.96" y2="438.5" stroke="#111" stroke-width="1.2" />
<line x1="153.46" y1="426.5" x2="158.46" y2="426.5" stroke="#111" stroke-width="1.2" />
<line x1="153.46" y1="438.5" x2="158.46" y2="438.5" stroke="#111" stroke-width="1.2" />
<line x1="170.33" y1="419" x2="170.33" y2="433" stroke="#111" stroke-width="1.2" />
<line x1="167.83" y1="419" x2="172.83" y2="419" stroke="#111" stroke-width="1.2" />
<line x1="167.83" y1="433" x2="172.83" y2="433" stroke="#111" stroke-width="1.2" />
<line x1="184.7" y1="413" x2="184.7" y2="427" stroke="#111" stroke-width="1.2" />
<line x1="182.2" y1="413" x2="187.2" y2="413" stroke="#111" stroke-width="1.2" />
<line x1="182.2" y1="427" x2="187.2" y2="427" stroke="#111" stroke-width="1.2" />
<line x1="199.07" y1="406.5" x2="199.07" y2="422.5" stroke="#111" stroke-width="1.2" />
<line x1="196.57" y1="406.5" x2="201.57" y2="406.5" stroke="#111" stroke-width="1.2" />
<line x1="196.57" y1="422.5" x2="201.57" y2="422.5" stroke="#111" stroke-width="1.2" />
<line x1="213.44" y1="404.1" x2="213.44" y2="418.1" stroke="#111" stroke-width="1.2" />
<line x1="210.94" y1="404.1" x2="215.94" y2="404.1" stroke="#111" stroke-width="1.2" />
<line x1="210.94" y1="418.1" x2="215.94" y2="418.1" stroke="#111" stroke-width="1.2" />
<line x1="84.11" y1="479.5" x2="84.11" y2="482.5" stroke="#111" stroke-width="1.2" />
<line x1="81.61" y1="479.5" x2="86.61" y2="479.5" stroke="#111" stroke-width="1.2" />
<line x1="81.61" y1="482.5" x2="86.61" y2="482.5" stroke="#111" stroke-width="1.2" />
<line x1="98.48" y1="473.2" x2="98.48" y2="478.2" stroke="#111" stroke-width="1.2" />
<line x1="95.98" y1="473.2" x2="100.98" y2="473.2" stroke="#111" stroke-width="1.2" />
<line x1="95.98" y1="478.2" x2="100.98" y2="478.2" stroke="#111" stroke-width="1.2" />
<line x1="112.85" y1="462.9" x2="112.85" y2="470.9" stroke="#111" stroke-width="1.2" />
<line x1="110.35" y1="462.9" x2="115.35" y2="462.9" stroke="#111" stroke-width="1.2" />
<line x1="110.35" y1="470.9" x2="115.35" y2="470.9" stroke="#111" stroke-width="1.2" />
<line x1="127.22" y1="446.3" x2="127.22" y2="458.3" stroke="#111" stroke-width="1.2" />
<line x1="124.72" y1="446.3" x2="129.72" y2="446.3" stroke="#111" stroke-width="1.2" />
<line x1="124.72" y1="458.3" x2="129.72" y2="458.3" stroke="#111" stroke-width="1.2" />
<line x1="141.59" y1="436" x2="141.59" y2="448" stroke="#111" stroke-width="1.2" />
<line x1="139.09" y1="436" x2="144.09" y2="436" stroke="#111" stroke-width="1.2" />
<line x1="139.09" y1="448" x2="144.09" y2="448" stroke="#111" stroke-width="1.2" />
<line x1="155.96" y1="427.2" x2="155.96" y2="439.2" stroke="#111" stroke-width="1.2" />
<line x1="153.46" y1="427.2" x2="158.46" y2="427.2" stroke="#111" stroke-width="1.2" />
<line x1="153.46" y1="439.2" x2="158.46" y2="439.2" stroke="#111" stroke-width="1.2" />
<line x1="170.33" y1="419.7" x2="170.33" y2="433.7" stroke="#111" stroke-width="1.2" />
<line x1="167.83" y1="419.7" x2="172.83" y2="419.7" stroke="#111" stroke-width="1.2" />
<line x1="167.83" y1="433.7" x2="172.83" y2="433.7" stroke="#111" stroke-width="1.2" />
<line x1="184.7" y1="414" x2="184.7" y2="428" stroke="#111" stroke-width="1.2" />
<line x1="182.2" y1="414" x2="187.2" y2="414" stroke="#111" stroke-width="1.2" />
<line x1="182.2" y1="428" x2="187.2" y2="428" stroke="#111" stroke-width="1.2" />
<line x1="199.07" y1="407.2" x2="199.07" y2="423.2" stroke="#111" stroke-width="1.2" />
<line x1="196.57" y1="407.2" x2="201.57" y2="407.2" stroke="#111" stroke-width="1.2" />
<line x1="196.57" y1="423.2" x2="201.57" y2="423.2" stroke="#111" stroke-width="1.2" />
<line x1="213.44" y1="400.9" x2="213.44" y2="414.9" stroke="#111" stroke-width="1.2" />
<line x1="210.94" y1="400.9" x2="215.94" y2="400.9" stroke="#111" stroke-width="1.2" />
<line x1="210.94" y1="414.9" x2="215.94" y2="414.9" stroke="#111" stroke-width="1.2" />
<polyline points="69.74,483.94 71.56,483.72 73.38,483.49 75.2,483.27 77.02,483.03 78.83,482.8 80.65,482.55 82.47,482.31 84.29,482.06 86.11,481.8 87.93,481.54 89.75,481.27 91.57,481 93.39,480.72 95.21,480.44 97.02,480.15 98.84,479.86 100.66,479.56 102.48,479.26 104.3,478.94 106.12,478.63 107.94,478.31 109.76,477.98 111.58,477.64 113.4,477.3 115.21,476.95 117.03,476.59 118.85,476.23 120.67,475.86 122.49,475.49 124.31,475.1 126.13,474.71 127.95,474.31 129.77,473.91 131.59,473.49 133.4,473.07 135.22,472.64 137.04,472.2 138.86,471.75 140.68,471.3 142.5,470.83 144.32,470.36 146.14,469.87 147.96,469.38 149.78,468.88 151.59,468.37 153.41,467.85 155.23,467.31 157.05,466.77 158.87,466.22 160.69,465.66 162.51,465.08 164.33,464.5 166.15,463.9 167.97,463.29 169.78,462.67 171.6,462.04 173.42,461.39 175.24,460.74 177.06,460.07 178.88,459.38 180.7,458.69 182.52,457.98 184.34,457.26 186.16,456.52 187.97,455.77 189.79,455 191.61,454.22 193.43,453.42 195.25,452.61 197.07,451.78 198.89,450.94 200.71,450.08 202.53,449.21 204.35,448.31 206.16,447.4 207.98,446.47 209.8,445.53 211.62,444.56 213.44,443.58" fill="none" stroke="#111" stroke-width="1.3" stroke-linejoin="round"/>
<polyline points="69.74,484.16 71.56,483.5 73.38,482.82 75.2,482.12 77.02,481.38 78.83,480.62 80.65,479.83 82.47,479.01 84.29,478.17 86.11,477.29 87.93,476.39 89.75,475.46 91.57,474.5 93.39,473.52 95.21,472.51 97.02,471.47 98.84,470.4 100.66,469.31 102.48,468.2 104.3,467.07 106.12,465.91 107.94,464.73 109.76,463.53 111.58,462.32 113.4,461.09 115.21,459.84 117.03,458.59 118.85,457.32 120.67,456.04 122.49,454.76 124.31,453.47 126.13,452.18 127.95,450.89 129.77,449.6 131.59,448.31 133.4,447.03 135.22,445.76 137.04,444.5 138.86,443.24 140.68,442 142.5,440.78 144.32,439.57 146.14,438.38 147.96,437.21 149.78,436.06 151.59,434.94 153.41,433.83 155.23,432.75 157.05,431.7 158.87,430.67 160.69,429.67 162.51,428.69 164.33,427.75 166.15,426.83 167.97,425.94 169.78,425.07 171.6,424.24 173.42,423.43 175.24,422.65 177.06,421.9 178.88,421.18 180.7,420.48 182.52,419.81 184.34,419.16 186.16,418.55 187.97,417.95 189.79,417.38 191.61,416.84 193.43,416.31 195.25,415.81 197.07,415.33 198.89,414.88 200.71,414.44 202.53,414.02 204.35,413.63 206.16,413.25 207.98,412.88 209.8,412.54 211.62,412.21 213.44,411.9" fill="none" stroke="#111" stroke-width="1.3" stroke-linejoin="round"/>
<polyline points="69.74,485.08 71.56,484.56 73.38,484.02 75.2,483.45 77.02,482.86 78.83,482.24 80.65,481.59 82.47,480.91 84.29,480.2 86.11,479.46 87.93,478.68 89.75,477.88 91.57,477.05 93.39,476.18 95.21,475.28 97.02,474.35 98.84,473.38 100.66,472.39 102.48,471.36 104.3,470.3 106.12,469.21 107.94,468.09 109.76,466.94 111.58,465.77 113.4,464.56 115.21,463.34 117.03,462.09 118.85,460.81 120.67,459.52 122.49,458.21 124.31,456.88 126.13,455.54 127.95,454.19 129.77,452.84 131.59,451.47 133.4,450.1 135.22,448.73 137.04,447.37 138.86,446 140.68,444.64 142.5,443.3 144.32,441.96 146.14,440.64 147.96,439.33 149.78,438.05 151.59,436.78 153.41,435.53 155.23,434.31 157.05,433.12 158.87,431.95 160.69,430.81 162.51,429.7 164.33,428.61 166.15,427.56 167.97,426.54 169.78,425.56 171.6,424.6 173.42,423.68 175.24,422.79 177.06,421.93 178.88,421.1 180.7,420.31 182.52,419.55 184.34,418.81 186.16,418.11 187.97,417.44 189.79,416.8 191.61,416.18 193.43,415.6 195.25,415.04 197.07,414.5 198.89,413.99 200.71,413.51 202.53,413.05 204.35,412.61 206.16,412.19 207.98,411.8 209.8,411.42 211.62,411.06 213.44,410.73" fill="none" stroke="#111" stroke-width="1.3" stroke-linejoin="round"/>
<polyline points="69.74,485.66 71.56,484.26 73.38,482.82 75.2,481.35 77.02,479.83 78.83,478.28 80.65,476.7 82.47,475.08 84.29,473.43 86.11,471.75 87.93,470.04 89.75,468.31 91.57,466.56 93.39,464.79 95.21,463 97.02,461.2 98.84,459.39 100.66,457.58 102.48,455.75 104.3,453.93 106.12,452.12 107.94,450.3 109.76,448.5 111.58,446.71 113.4,444.94 115.21,443.18 117.03,441.44 118.85,439.73 120.67,438.05 122.49,436.39 124.31,434.77 126.13,433.17 127.95,431.62 129.77,430.09 131.59,428.61 133.4,427.16 135.22,425.76 137.04,424.39 138.86,423.07 140.68,421.78 142.5,420.54 144.32,419.34 146.14,418.19 147.96,417.07 149.78,415.99 151.59,414.96 153.41,413.97 155.23,413.01 157.05,412.1 158.87,411.22 160.69,410.38 162.51,409.58 164.33,408.81 166.15,408.08 167.97,407.38 169.78,406.71 171.6,406.08 173.42,405.47 175.24,404.89 177.06,404.34 178.88,403.82 180.7,403.32 182.52,402.85 184.34,402.4 186.16,401.98 187.97,401.58 189.79,401.19 191.61,400.83 193.43,400.49 195.25,400.16 197.07,399.85 198.89,399.56 200.71,399.28 202.53,399.02 204.35,398.77 206.16,398.54 207.98,398.32 209.8,398.11 211.62,397.91 213.44,397.72" fill="none" stroke="#111" stroke-width="1.3" stroke-linejoin="round"/>
<circle cx="69.74" cy="483.1" r="2.09" fill="#fff" stroke="#111" stroke-width="1.2"/>
<circle cx="84.11" cy="482.4" r="2.09" fill="#fff" stroke="#111" stroke-width="1.2"/>
<circle cx="98.48" cy="482.4" r="2.09" fill="#fff" stroke="#111" stroke-width="1.2"/>
<circle cx="112.85" cy="478.4" r="2.09" fill="#fff" stroke="#111" stroke-width="1.2"/>
<circle cx="127.22" cy="473.2" r="2.09" fill="#fff" stroke="#111" stroke-width="1.2"/>
<circle cx="141.59" cy="468.7" r="2.09" fill="#fff" stroke="#111" stroke-width="1.2"/>
<circle cx="155.96" cy="465.1" r="2.09" fill="#fff" stroke="#111" stroke-width="1.2"/>
<circle cx="170.33" cy="461.75" r="2.09" fill="#fff" stroke="#111" stroke-width="1.2"/>
<circle cx="184.7" cy="459.25" r="2.09" fill="#fff" stroke="#111" stroke-width="1.2"/>
<circle cx="199.07" cy="455.5" r="2.09" fill="#fff" stroke="#111" stroke-width="1.2"/>
<circle cx="213.44" cy="440.2" r="2.09" fill="#fff" stroke="#111" stroke-width="1.2"/>
<polygon points="69.74,480.44 72.4,485.1 67.08,485.1" fill="#fff" stroke="#111" stroke-width="1.1" stroke-linejoin="miter"/>
<polygon points="84.11,475.84 86.77,480.5 81.45,480.5" fill="#fff" stroke="#111" stroke-width="1.1" stroke-linejoin="miter"/>
<polygon points="98.48,470.34 101.14,475 95.82,475" fill="#fff" stroke="#111" stroke-width="1.1" stroke-linejoin="miter"/>
<polygon points="112.85,458.34 115.51,463 110.19,463" fill="#fff" stroke="#111" stroke-width="1.1" stroke-linejoin="miter"/>
<polygon points="127.22,447.34 129.88,452 124.56,452" fill="#fff" stroke="#111" stroke-width="1.1" stroke-linejoin="miter"/>
<polygon points="141.59,437.84 144.25,442.5 138.93,442.5" fill="#fff" stroke="#111" stroke-width="1.1" stroke-linejoin="miter"/>
<polygon points="155.96,429.84 158.62,434.5 153.3,434.5" fill="#fff" stroke="#111" stroke-width="1.1" stroke-linejoin="miter"/>
<polygon points="170.33,423.34 172.99,428 167.67,428" fill="#fff" stroke="#111" stroke-width="1.1" stroke-linejoin="miter"/>
<polygon points="184.7,417.34 187.36,422 182.04,422" fill="#fff" stroke="#111" stroke-width="1.1" stroke-linejoin="miter"/>
<polygon points="199.07,411.84 201.73,416.5 196.41,416.5" fill="#fff" stroke="#111" stroke-width="1.1" stroke-linejoin="miter"/>
<polygon points="213.44,408.44 216.1,413.1 210.78,413.1" fill="#fff" stroke="#111" stroke-width="1.1" stroke-linejoin="miter"/>
<circle cx="69.74" cy="483.1" r="2.56" fill="#111"/>
<circle cx="84.11" cy="481" r="2.56" fill="#111"/>
<circle cx="98.48" cy="475.7" r="2.56" fill="#111"/>
<circle cx="112.85" cy="466.9" r="2.56" fill="#111"/>
<circle cx="127.22" cy="452.3" r="2.56" fill="#111"/>
<circle cx="141.59" cy="442" r="2.56" fill="#111"/>
<circle cx="155.96" cy="433.2" r="2.56" fill="#111"/>
<circle cx="170.33" cy="426.7" r="2.56" fill="#111"/>
<circle cx="184.7" cy="421" r="2.56" fill="#111"/>
<circle cx="199.07" cy="415.2" r="2.56" fill="#111"/>
<circle cx="213.44" cy="407.9" r="2.56" fill="#111"/>
<polygon points="69.74,479.9 72.94,485.5 66.54,485.5" fill="#111"/>
<polygon points="84.11,474.3 87.31,479.9 80.91,479.9" fill="#111"/>
<polygon points="98.48,457.7 101.68,463.3 95.28,463.3" fill="#111"/>
<polygon points="112.85,440.3 116.05,445.9 109.65,445.9" fill="#111"/>
<polygon points="127.22,426.9 130.42,432.5 124.02,432.5" fill="#111"/>
<polygon points="141.59,416.9 144.79,422.5 138.39,422.5" fill="#111"/>
<polygon points="155.96,410.4 159.16,416 152.76,416" fill="#111"/>
<polygon points="170.33,406.3 173.53,411.9 167.13,411.9" fill="#111"/>
<polygon points="184.7,401.4 187.9,407 181.5,407" fill="#111"/>
<polygon points="199.07,395.7 202.27,401.3 195.87,401.3" fill="#111"/>
<polygon points="213.44,391.6 216.64,397.2 210.24,397.2" fill="#111"/>
<line x1="221.2" y1="405.8" x2="221.2" y2="443.8" stroke="#111" stroke-width="1.3" />
<circle cx="226.95" cy="425.2" r="1.5" fill="#111"/>
<circle cx="231.2" cy="425.2" r="1.5" fill="#111"/>
<circle cx="235.45" cy="425.2" r="1.5" fill="#111"/>
<circle cx="47.3" cy="386.4" r="2.43" fill="#111"/>
<text x="53.6" y="392.6" font-size="11" textLength="33.5" lengthAdjust="spacingAndGlyphs" fill="#111">Control</text>
<circle cx="47.3" cy="399.6" r="1.98" fill="#fff" stroke="#111" stroke-width="1.2"/>
<text x="53.6" y="405.8" font-size="11" textLength="56.3" lengthAdjust="spacingAndGlyphs" fill="#111">Neutropenic</text>
<polygon points="47.3,409.82 50.18,414.86 44.42,414.86" fill="#111"/>
<text x="53.6" y="418.9" font-size="11" fill="#111">Control + L-NAME</text>
<polygon points="47.3,423.68 49.82,428.09 44.78,428.09" fill="#fff" stroke="#111" stroke-width="1.1" stroke-linejoin="miter"/>
<text x="53.6" y="432.4" font-size="11" textLength="56.3" lengthAdjust="spacingAndGlyphs" fill="#111">Neutropenic</text>
<text x="56" y="445.7" font-size="11" textLength="46.5" lengthAdjust="spacingAndGlyphs" fill="#111">+ L-NAME</text>
<rect x="301.2" y="379.6" width="211.3" height="127" fill="none" stroke="#111" stroke-width="1.5"/>
<line x1="297.6" y1="506.25" x2="301.2" y2="506.25" stroke="#111" stroke-width="1.5" />
<line x1="297.6" y1="474.75" x2="301.2" y2="474.75" stroke="#111" stroke-width="1.5" />
<line x1="297.6" y1="443.25" x2="301.2" y2="443.25" stroke="#111" stroke-width="1.5" />
<line x1="297.6" y1="411.75" x2="301.2" y2="411.75" stroke="#111" stroke-width="1.5" />
<line x1="297.6" y1="380.25" x2="301.2" y2="380.25" stroke="#111" stroke-width="1.5" />
<text x="293" y="511.25" font-size="11" text-anchor="end" fill="#111">-50</text>
<text x="293" y="479.75" font-size="11" text-anchor="end" fill="#111">0</text>
<text x="293" y="448.25" font-size="11" text-anchor="end" fill="#111">50</text>
<text x="293" y="416.75" font-size="11" text-anchor="end" fill="#111">100</text>
<text x="293" y="385.25" font-size="11" text-anchor="end" fill="#111">150</text>
<line x1="301" y1="506.6" x2="301" y2="510" stroke="#111" stroke-width="1.5" />
<line x1="336.25" y1="506.6" x2="336.25" y2="510" stroke="#111" stroke-width="1.5" />
<line x1="371.5" y1="506.6" x2="371.5" y2="510" stroke="#111" stroke-width="1.5" />
<line x1="406.75" y1="506.6" x2="406.75" y2="510" stroke="#111" stroke-width="1.5" />
<line x1="442" y1="506.6" x2="442" y2="510" stroke="#111" stroke-width="1.5" />
<line x1="477.25" y1="506.6" x2="477.25" y2="510" stroke="#111" stroke-width="1.5" />
<line x1="512.5" y1="506.6" x2="512.5" y2="510" stroke="#111" stroke-width="1.5" />
<text x="302.1" y="521.4" font-size="11" text-anchor="middle" fill="#111">-10</text>
<text x="337.35" y="521.4" font-size="11" text-anchor="middle" fill="#111">-9</text>
<text x="372.6" y="521.4" font-size="11" text-anchor="middle" fill="#111">-8</text>
<text x="407.85" y="521.4" font-size="11" text-anchor="middle" fill="#111">-7</text>
<text x="443.1" y="521.4" font-size="11" text-anchor="middle" fill="#111">-6</text>
<text x="478.35" y="521.4" font-size="11" text-anchor="middle" fill="#111">-5</text>
<text x="513.6" y="521.4" font-size="11" text-anchor="middle" fill="#111">-4</text>
<text x="401.8" y="535.7" font-size="11" text-anchor="middle" textLength="54.5" lengthAdjust="spacingAndGlyphs" fill="#111">[ACh] log M</text>
<text x="271.9" y="465.4" font-size="11" textLength="57.5" lengthAdjust="spacingAndGlyphs" transform="rotate(-90 271.9 465.4)" fill="#111">% relaxation</text>
<text x="302" y="395.6" font-size="19" font-weight="bold" fill="#111">F</text>
<line x1="353.88" y1="466.5" x2="353.88" y2="469.5" stroke="#111" stroke-width="1.2" />
<line x1="351.38" y1="466.5" x2="356.38" y2="466.5" stroke="#111" stroke-width="1.2" />
<line x1="351.38" y1="469.5" x2="356.38" y2="469.5" stroke="#111" stroke-width="1.2" />
<line x1="371.5" y1="460" x2="371.5" y2="464" stroke="#111" stroke-width="1.2" />
<line x1="369" y1="460" x2="374" y2="460" stroke="#111" stroke-width="1.2" />
<line x1="369" y1="464" x2="374" y2="464" stroke="#111" stroke-width="1.2" />
<line x1="389.12" y1="437.8" x2="389.12" y2="443.8" stroke="#111" stroke-width="1.2" />
<line x1="386.62" y1="437.8" x2="391.62" y2="437.8" stroke="#111" stroke-width="1.2" />
<line x1="386.62" y1="443.8" x2="391.62" y2="443.8" stroke="#111" stroke-width="1.2" />
<line x1="406.75" y1="418.2" x2="406.75" y2="424.2" stroke="#111" stroke-width="1.2" />
<line x1="404.25" y1="418.2" x2="409.25" y2="418.2" stroke="#111" stroke-width="1.2" />
<line x1="404.25" y1="424.2" x2="409.25" y2="424.2" stroke="#111" stroke-width="1.2" />
<line x1="424.38" y1="417.6" x2="424.38" y2="421.6" stroke="#111" stroke-width="1.2" />
<line x1="421.88" y1="417.6" x2="426.88" y2="417.6" stroke="#111" stroke-width="1.2" />
<line x1="421.88" y1="421.6" x2="426.88" y2="421.6" stroke="#111" stroke-width="1.2" />
<line x1="442" y1="416.1" x2="442" y2="423.1" stroke="#111" stroke-width="1.2" />
<line x1="439.5" y1="416.1" x2="444.5" y2="416.1" stroke="#111" stroke-width="1.2" />
<line x1="439.5" y1="423.1" x2="444.5" y2="423.1" stroke="#111" stroke-width="1.2" />
<line x1="459.62" y1="417.7" x2="459.62" y2="424.7" stroke="#111" stroke-width="1.2" />
<line x1="457.12" y1="417.7" x2="462.12" y2="417.7" stroke="#111" stroke-width="1.2" />
<line x1="457.12" y1="424.7" x2="462.12" y2="424.7" stroke="#111" stroke-width="1.2" />
<line x1="477.25" y1="417.8" x2="477.25" y2="422.8" stroke="#111" stroke-width="1.2" />
<line x1="474.75" y1="417.8" x2="479.75" y2="417.8" stroke="#111" stroke-width="1.2" />
<line x1="474.75" y1="422.8" x2="479.75" y2="422.8" stroke="#111" stroke-width="1.2" />
<line x1="371.5" y1="460.5" x2="371.5" y2="463.5" stroke="#111" stroke-width="1.2" />
<line x1="369" y1="460.5" x2="374" y2="460.5" stroke="#111" stroke-width="1.2" />
<line x1="369" y1="463.5" x2="374" y2="463.5" stroke="#111" stroke-width="1.2" />
<line x1="389.12" y1="447.2" x2="389.12" y2="454.2" stroke="#111" stroke-width="1.2" />
<line x1="386.62" y1="447.2" x2="391.62" y2="447.2" stroke="#111" stroke-width="1.2" />
<line x1="386.62" y1="454.2" x2="391.62" y2="454.2" stroke="#111" stroke-width="1.2" />
<line x1="406.75" y1="423.6" x2="406.75" y2="428.6" stroke="#111" stroke-width="1.2" />
<line x1="404.25" y1="423.6" x2="409.25" y2="423.6" stroke="#111" stroke-width="1.2" />
<line x1="404.25" y1="428.6" x2="409.25" y2="428.6" stroke="#111" stroke-width="1.2" />
<line x1="424.38" y1="417.6" x2="424.38" y2="421.6" stroke="#111" stroke-width="1.2" />
<line x1="421.88" y1="417.6" x2="426.88" y2="417.6" stroke="#111" stroke-width="1.2" />
<line x1="421.88" y1="421.6" x2="426.88" y2="421.6" stroke="#111" stroke-width="1.2" />
<line x1="442" y1="414.2" x2="442" y2="417.2" stroke="#111" stroke-width="1.2" />
<line x1="439.5" y1="414.2" x2="444.5" y2="414.2" stroke="#111" stroke-width="1.2" />
<line x1="439.5" y1="417.2" x2="444.5" y2="417.2" stroke="#111" stroke-width="1.2" />
<line x1="459.62" y1="414.8" x2="459.62" y2="417.8" stroke="#111" stroke-width="1.2" />
<line x1="457.12" y1="414.8" x2="462.12" y2="414.8" stroke="#111" stroke-width="1.2" />
<line x1="457.12" y1="417.8" x2="462.12" y2="417.8" stroke="#111" stroke-width="1.2" />
<line x1="477.25" y1="413.9" x2="477.25" y2="416.9" stroke="#111" stroke-width="1.2" />
<line x1="474.75" y1="413.9" x2="479.75" y2="413.9" stroke="#111" stroke-width="1.2" />
<line x1="474.75" y1="416.9" x2="479.75" y2="416.9" stroke="#111" stroke-width="1.2" />
<polyline points="336.25,473.51 338.03,473.43 339.82,473.33 341.6,473.22 343.39,473.09 345.17,472.94 346.96,472.77 348.74,472.57 350.53,472.33 352.31,472.07 354.1,471.76 355.88,471.4 357.67,470.99 359.45,470.52 361.24,469.99 363.02,469.38 364.81,468.68 366.59,467.89 368.38,467.01 370.16,466.01 371.95,464.9 373.73,463.66 375.52,462.3 377.3,460.81 379.09,459.19 380.87,457.44 382.66,455.57 384.44,453.59 386.22,451.52 388.01,449.38 389.79,447.18 391.58,444.95 393.36,442.73 395.15,440.52 396.93,438.37 398.72,436.28 400.5,434.28 402.29,432.39 404.07,430.61 405.86,428.96 407.64,427.44 409.43,426.05 411.21,424.79 413,423.65 414.78,422.63 416.57,421.72 418.35,420.92 420.14,420.2 421.92,419.58 423.71,419.03 425.49,418.54 427.28,418.12 429.06,417.76 430.84,417.44 432.63,417.16 434.41,416.92 436.2,416.71 437.98,416.53 439.77,416.38 441.55,416.25 443.34,416.13 445.12,416.03 446.91,415.94 448.69,415.87 450.48,415.81 452.26,415.75 454.05,415.71 455.83,415.67 457.62,415.63 459.4,415.6 461.19,415.58 462.97,415.55 464.76,415.53 466.54,415.52 468.33,415.5 470.11,415.49 471.9,415.48 473.68,415.47 475.47,415.46 477.25,415.46" fill="none" stroke="#111" stroke-width="1.3" stroke-linejoin="round"/>
<polyline points="336.25,471.25 338.03,471.21 339.82,471.16 341.6,471.1 343.39,471.02 345.17,470.93 346.96,470.82 348.74,470.68 350.53,470.52 352.31,470.31 354.1,470.06 355.88,469.76 357.67,469.39 359.45,468.94 361.24,468.4 363.02,467.75 364.81,466.97 366.59,466.05 368.38,464.96 370.16,463.69 371.95,462.22 373.73,460.54 375.52,458.65 377.3,456.54 379.09,454.24 380.87,451.78 382.66,449.19 384.44,446.52 386.22,443.83 388.01,441.17 389.79,438.61 391.58,436.19 393.36,433.94 395.15,431.89 396.93,430.05 398.72,428.43 400.5,427.02 402.29,425.8 404.07,424.76 405.86,423.87 407.64,423.13 409.43,422.52 411.21,422 413,421.58 414.78,421.23 416.57,420.94 418.35,420.7 420.14,420.51 421.92,420.35 423.71,420.22 425.49,420.11 427.28,420.03 429.06,419.96 430.84,419.9 432.63,419.85 434.41,419.81 436.2,419.78 437.98,419.76 439.77,419.74 441.55,419.72 443.34,419.71 445.12,419.7 446.91,419.69 448.69,419.68 450.48,419.67 452.26,419.67 454.05,419.67 455.83,419.66 457.62,419.66 459.4,419.66 461.19,419.66 462.97,419.66 464.76,419.65 466.54,419.65 468.33,419.65 470.11,419.65 471.9,419.65 473.68,419.65 475.47,419.65 477.25,419.65" fill="none" stroke="#111" stroke-width="1.3" stroke-linejoin="round"/>
<circle cx="336.25" cy="473.5" r="2.2" fill="#fff" stroke="#111" stroke-width="1.2"/>
<circle cx="353.88" cy="468" r="2.2" fill="#fff" stroke="#111" stroke-width="1.2"/>
<circle cx="371.5" cy="462" r="2.2" fill="#fff" stroke="#111" stroke-width="1.2"/>
<circle cx="389.12" cy="440.8" r="2.2" fill="#fff" stroke="#111" stroke-width="1.2"/>
<circle cx="406.75" cy="421.2" r="2.2" fill="#fff" stroke="#111" stroke-width="1.2"/>
<circle cx="424.38" cy="419.6" r="2.2" fill="#fff" stroke="#111" stroke-width="1.2"/>
<circle cx="442" cy="419.6" r="2.2" fill="#fff" stroke="#111" stroke-width="1.2"/>
<circle cx="459.62" cy="421.2" r="2.2" fill="#fff" stroke="#111" stroke-width="1.2"/>
<circle cx="477.25" cy="420.3" r="2.2" fill="#fff" stroke="#111" stroke-width="1.2"/>
<circle cx="336.25" cy="473.5" r="2.7" fill="#111"/>
<circle cx="353.88" cy="473.5" r="2.7" fill="#111"/>
<circle cx="371.5" cy="462" r="2.7" fill="#111"/>
<circle cx="389.12" cy="450.7" r="2.7" fill="#111"/>
<circle cx="406.75" cy="426.1" r="2.7" fill="#111"/>
<circle cx="424.38" cy="419.6" r="2.7" fill="#111"/>
<circle cx="442" cy="415.7" r="2.7" fill="#111"/>
<circle cx="459.62" cy="416.3" r="2.7" fill="#111"/>
<circle cx="477.25" cy="415.4" r="2.7" fill="#111"/>
<circle cx="373.8" cy="387.5" r="2.43" fill="#111"/>
<text x="380.6" y="392.5" font-size="11" textLength="33.5" lengthAdjust="spacingAndGlyphs" fill="#111">Control</text>
<circle cx="373.8" cy="400.5" r="1.87" fill="#fff" stroke="#111" stroke-width="1.2"/>
<text x="381.4" y="405.5" font-size="11" textLength="57.2" lengthAdjust="spacingAndGlyphs" fill="#111">Neutropenic</text>
<rect x="172" y="556.4" width="210.6" height="137.9" fill="none" stroke="#111" stroke-width="1.5"/>
<line x1="168.4" y1="694.2" x2="172" y2="694.2" stroke="#111" stroke-width="1.5" />
<line x1="168.4" y1="671.25" x2="172" y2="671.25" stroke="#111" stroke-width="1.5" />
<line x1="168.4" y1="648.3" x2="172" y2="648.3" stroke="#111" stroke-width="1.5" />
<line x1="168.4" y1="625.35" x2="172" y2="625.35" stroke="#111" stroke-width="1.5" />
<line x1="168.4" y1="602.4" x2="172" y2="602.4" stroke="#111" stroke-width="1.5" />
<line x1="168.4" y1="579.45" x2="172" y2="579.45" stroke="#111" stroke-width="1.5" />
<line x1="168.4" y1="556.5" x2="172" y2="556.5" stroke="#111" stroke-width="1.5" />
<text x="164.7" y="676.25" font-size="11" text-anchor="end" fill="#111">0</text>
<text x="164.7" y="630.35" font-size="11" text-anchor="end" fill="#111">200</text>
<text x="164.7" y="584.45" font-size="11" text-anchor="end" fill="#111">400</text>
<line x1="172" y1="694.3" x2="172" y2="697.7" stroke="#111" stroke-width="1.5" />
<line x1="202" y1="694.3" x2="202" y2="697.7" stroke="#111" stroke-width="1.5" />
<line x1="232" y1="694.3" x2="232" y2="697.7" stroke="#111" stroke-width="1.5" />
<line x1="262" y1="694.3" x2="262" y2="697.7" stroke="#111" stroke-width="1.5" />
<line x1="292" y1="694.3" x2="292" y2="697.7" stroke="#111" stroke-width="1.5" />
<line x1="322" y1="694.3" x2="322" y2="697.7" stroke="#111" stroke-width="1.5" />
<line x1="352" y1="694.3" x2="352" y2="697.7" stroke="#111" stroke-width="1.5" />
<line x1="382" y1="694.3" x2="382" y2="697.7" stroke="#111" stroke-width="1.5" />
<text x="172.6" y="710" font-size="11" text-anchor="middle" fill="#111">-10</text>
<text x="202.6" y="710" font-size="11" text-anchor="middle" fill="#111">-9</text>
<text x="232.6" y="710" font-size="11" text-anchor="middle" fill="#111">-8</text>
<text x="262.6" y="710" font-size="11" text-anchor="middle" fill="#111">-7</text>
<text x="292.6" y="710" font-size="11" text-anchor="middle" fill="#111">-6</text>
<text x="322.6" y="710" font-size="11" text-anchor="middle" fill="#111">-5</text>
<text x="352.6" y="710" font-size="11" text-anchor="middle" fill="#111">-4</text>
<text x="382.6" y="710" font-size="11" text-anchor="middle" fill="#111">-3</text>
<text x="273.5" y="725.3" font-size="11" text-anchor="middle" textLength="48" lengthAdjust="spacingAndGlyphs" fill="#111">[PE] log M</text>
<text x="137" y="655" font-size="11" textLength="65" lengthAdjust="spacingAndGlyphs" transform="rotate(-90 137 655)" fill="#111">% constriction</text>
<text x="365.7" y="572.2" font-size="19" font-weight="bold" fill="#111">G</text>
<line x1="232" y1="668.5" x2="232" y2="671.5" stroke="#111" stroke-width="1.2" />
<line x1="229.5" y1="668.5" x2="234.5" y2="668.5" stroke="#111" stroke-width="1.2" />
<line x1="229.5" y1="671.5" x2="234.5" y2="671.5" stroke="#111" stroke-width="1.2" />
<line x1="247" y1="663.7" x2="247" y2="667.7" stroke="#111" stroke-width="1.2" />
<line x1="244.5" y1="663.7" x2="249.5" y2="663.7" stroke="#111" stroke-width="1.2" />
<line x1="244.5" y1="667.7" x2="249.5" y2="667.7" stroke="#111" stroke-width="1.2" />
<line x1="262" y1="656.8" x2="262" y2="662.8" stroke="#111" stroke-width="1.2" />
<line x1="259.5" y1="656.8" x2="264.5" y2="656.8" stroke="#111" stroke-width="1.2" />
<line x1="259.5" y1="662.8" x2="264.5" y2="662.8" stroke="#111" stroke-width="1.2" />
<line x1="277" y1="651.9" x2="277" y2="658.9" stroke="#111" stroke-width="1.2" />
<line x1="274.5" y1="651.9" x2="279.5" y2="651.9" stroke="#111" stroke-width="1.2" />
<line x1="274.5" y1="658.9" x2="279.5" y2="658.9" stroke="#111" stroke-width="1.2" />
<line x1="292" y1="647.3" x2="292" y2="655.3" stroke="#111" stroke-width="1.2" />
<line x1="289.5" y1="647.3" x2="294.5" y2="647.3" stroke="#111" stroke-width="1.2" />
<line x1="289.5" y1="655.3" x2="294.5" y2="655.3" stroke="#111" stroke-width="1.2" />
<line x1="307" y1="644.1" x2="307" y2="652.1" stroke="#111" stroke-width="1.2" />
<line x1="304.5" y1="644.1" x2="309.5" y2="644.1" stroke="#111" stroke-width="1.2" />
<line x1="304.5" y1="652.1" x2="309.5" y2="652.1" stroke="#111" stroke-width="1.2" />
<line x1="322" y1="640.2" x2="322" y2="649.2" stroke="#111" stroke-width="1.2" />
<line x1="319.5" y1="640.2" x2="324.5" y2="640.2" stroke="#111" stroke-width="1.2" />
<line x1="319.5" y1="649.2" x2="324.5" y2="649.2" stroke="#111" stroke-width="1.2" />
<line x1="337" y1="636.6" x2="337" y2="644.6" stroke="#111" stroke-width="1.2" />
<line x1="334.5" y1="636.6" x2="339.5" y2="636.6" stroke="#111" stroke-width="1.2" />
<line x1="334.5" y1="644.6" x2="339.5" y2="644.6" stroke="#111" stroke-width="1.2" />
<line x1="352" y1="616.9" x2="352" y2="630.9" stroke="#111" stroke-width="1.2" />
<line x1="349.5" y1="616.9" x2="354.5" y2="616.9" stroke="#111" stroke-width="1.2" />
<line x1="349.5" y1="630.9" x2="354.5" y2="630.9" stroke="#111" stroke-width="1.2" />
<line x1="217" y1="669.1" x2="217" y2="672.1" stroke="#111" stroke-width="1.2" />
<line x1="214.5" y1="669.1" x2="219.5" y2="669.1" stroke="#111" stroke-width="1.2" />
<line x1="214.5" y1="672.1" x2="219.5" y2="672.1" stroke="#111" stroke-width="1.2" />
<line x1="232" y1="661.5" x2="232" y2="666.5" stroke="#111" stroke-width="1.2" />
<line x1="229.5" y1="661.5" x2="234.5" y2="661.5" stroke="#111" stroke-width="1.2" />
<line x1="229.5" y1="666.5" x2="234.5" y2="666.5" stroke="#111" stroke-width="1.2" />
<line x1="247" y1="655.5" x2="247" y2="661.5" stroke="#111" stroke-width="1.2" />
<line x1="244.5" y1="655.5" x2="249.5" y2="655.5" stroke="#111" stroke-width="1.2" />
<line x1="244.5" y1="661.5" x2="249.5" y2="661.5" stroke="#111" stroke-width="1.2" />
<line x1="262" y1="644.7" x2="262" y2="652.7" stroke="#111" stroke-width="1.2" />
<line x1="259.5" y1="644.7" x2="264.5" y2="644.7" stroke="#111" stroke-width="1.2" />
<line x1="259.5" y1="652.7" x2="264.5" y2="652.7" stroke="#111" stroke-width="1.2" />
<line x1="277" y1="633.6" x2="277" y2="643.6" stroke="#111" stroke-width="1.2" />
<line x1="274.5" y1="633.6" x2="279.5" y2="633.6" stroke="#111" stroke-width="1.2" />
<line x1="274.5" y1="643.6" x2="279.5" y2="643.6" stroke="#111" stroke-width="1.2" />
<line x1="292" y1="622.5" x2="292" y2="634.5" stroke="#111" stroke-width="1.2" />
<line x1="289.5" y1="622.5" x2="294.5" y2="622.5" stroke="#111" stroke-width="1.2" />
<line x1="289.5" y1="634.5" x2="294.5" y2="634.5" stroke="#111" stroke-width="1.2" />
<line x1="307" y1="614" x2="307" y2="628" stroke="#111" stroke-width="1.2" />
<line x1="304.5" y1="614" x2="309.5" y2="614" stroke="#111" stroke-width="1.2" />
<line x1="304.5" y1="628" x2="309.5" y2="628" stroke="#111" stroke-width="1.2" />
<line x1="322" y1="605.4" x2="322" y2="623.4" stroke="#111" stroke-width="1.2" />
<line x1="319.5" y1="605.4" x2="324.5" y2="605.4" stroke="#111" stroke-width="1.2" />
<line x1="319.5" y1="623.4" x2="324.5" y2="623.4" stroke="#111" stroke-width="1.2" />
<line x1="337" y1="597" x2="337" y2="617" stroke="#111" stroke-width="1.2" />
<line x1="334.5" y1="597" x2="339.5" y2="597" stroke="#111" stroke-width="1.2" />
<line x1="334.5" y1="617" x2="339.5" y2="617" stroke="#111" stroke-width="1.2" />
<line x1="352" y1="589.2" x2="352" y2="601.2" stroke="#111" stroke-width="1.2" />
<line x1="349.5" y1="589.2" x2="354.5" y2="589.2" stroke="#111" stroke-width="1.2" />
<line x1="349.5" y1="601.2" x2="354.5" y2="601.2" stroke="#111" stroke-width="1.2" />
<line x1="217" y1="669.1" x2="217" y2="672.1" stroke="#111" stroke-width="1.2" />
<line x1="214.5" y1="669.1" x2="219.5" y2="669.1" stroke="#111" stroke-width="1.2" />
<line x1="214.5" y1="672.1" x2="219.5" y2="672.1" stroke="#111" stroke-width="1.2" />
<line x1="232" y1="659" x2="232" y2="664" stroke="#111" stroke-width="1.2" />
<line x1="229.5" y1="659" x2="234.5" y2="659" stroke="#111" stroke-width="1.2" />
<line x1="229.5" y1="664" x2="234.5" y2="664" stroke="#111" stroke-width="1.2" />
<line x1="247" y1="653" x2="247" y2="659" stroke="#111" stroke-width="1.2" />
<line x1="244.5" y1="653" x2="249.5" y2="653" stroke="#111" stroke-width="1.2" />
<line x1="244.5" y1="659" x2="249.5" y2="659" stroke="#111" stroke-width="1.2" />
<line x1="262" y1="636.6" x2="262" y2="646.6" stroke="#111" stroke-width="1.2" />
<line x1="259.5" y1="636.6" x2="264.5" y2="636.6" stroke="#111" stroke-width="1.2" />
<line x1="259.5" y1="646.6" x2="264.5" y2="646.6" stroke="#111" stroke-width="1.2" />
<line x1="277" y1="627.6" x2="277" y2="637.6" stroke="#111" stroke-width="1.2" />
<line x1="274.5" y1="627.6" x2="279.5" y2="627.6" stroke="#111" stroke-width="1.2" />
<line x1="274.5" y1="637.6" x2="279.5" y2="637.6" stroke="#111" stroke-width="1.2" />
<line x1="292" y1="618" x2="292" y2="630" stroke="#111" stroke-width="1.2" />
<line x1="289.5" y1="618" x2="294.5" y2="618" stroke="#111" stroke-width="1.2" />
<line x1="289.5" y1="630" x2="294.5" y2="630" stroke="#111" stroke-width="1.2" />
<line x1="307" y1="612.4" x2="307" y2="624.4" stroke="#111" stroke-width="1.2" />
<line x1="304.5" y1="612.4" x2="309.5" y2="612.4" stroke="#111" stroke-width="1.2" />
<line x1="304.5" y1="624.4" x2="309.5" y2="624.4" stroke="#111" stroke-width="1.2" />
<line x1="322" y1="605" x2="322" y2="617" stroke="#111" stroke-width="1.2" />
<line x1="319.5" y1="605" x2="324.5" y2="605" stroke="#111" stroke-width="1.2" />
<line x1="319.5" y1="617" x2="324.5" y2="617" stroke="#111" stroke-width="1.2" />
<line x1="337" y1="597.3" x2="337" y2="609.3" stroke="#111" stroke-width="1.2" />
<line x1="334.5" y1="597.3" x2="339.5" y2="597.3" stroke="#111" stroke-width="1.2" />
<line x1="334.5" y1="609.3" x2="339.5" y2="609.3" stroke="#111" stroke-width="1.2" />
<line x1="352" y1="588.2" x2="352" y2="600.2" stroke="#111" stroke-width="1.2" />
<line x1="349.5" y1="588.2" x2="354.5" y2="588.2" stroke="#111" stroke-width="1.2" />
<line x1="349.5" y1="600.2" x2="354.5" y2="600.2" stroke="#111" stroke-width="1.2" />
<line x1="217" y1="669.1" x2="217" y2="672.1" stroke="#111" stroke-width="1.2" />
<line x1="214.5" y1="669.1" x2="219.5" y2="669.1" stroke="#111" stroke-width="1.2" />
<line x1="214.5" y1="672.1" x2="219.5" y2="672.1" stroke="#111" stroke-width="1.2" />
<line x1="232" y1="657" x2="232" y2="662" stroke="#111" stroke-width="1.2" />
<line x1="229.5" y1="657" x2="234.5" y2="657" stroke="#111" stroke-width="1.2" />
<line x1="229.5" y1="662" x2="234.5" y2="662" stroke="#111" stroke-width="1.2" />
<line x1="247" y1="650.8" x2="247" y2="656.8" stroke="#111" stroke-width="1.2" />
<line x1="244.5" y1="650.8" x2="249.5" y2="650.8" stroke="#111" stroke-width="1.2" />
<line x1="244.5" y1="656.8" x2="249.5" y2="656.8" stroke="#111" stroke-width="1.2" />
<line x1="262" y1="633.6" x2="262" y2="641.6" stroke="#111" stroke-width="1.2" />
<line x1="259.5" y1="633.6" x2="264.5" y2="633.6" stroke="#111" stroke-width="1.2" />
<line x1="259.5" y1="641.6" x2="264.5" y2="641.6" stroke="#111" stroke-width="1.2" />
<line x1="277" y1="622.5" x2="277" y2="630.5" stroke="#111" stroke-width="1.2" />
<line x1="274.5" y1="622.5" x2="279.5" y2="622.5" stroke="#111" stroke-width="1.2" />
<line x1="274.5" y1="630.5" x2="279.5" y2="630.5" stroke="#111" stroke-width="1.2" />
<line x1="292" y1="610.4" x2="292" y2="620.4" stroke="#111" stroke-width="1.2" />
<line x1="289.5" y1="610.4" x2="294.5" y2="610.4" stroke="#111" stroke-width="1.2" />
<line x1="289.5" y1="620.4" x2="294.5" y2="620.4" stroke="#111" stroke-width="1.2" />
<line x1="307" y1="604.3" x2="307" y2="614.3" stroke="#111" stroke-width="1.2" />
<line x1="304.5" y1="604.3" x2="309.5" y2="604.3" stroke="#111" stroke-width="1.2" />
<line x1="304.5" y1="614.3" x2="309.5" y2="614.3" stroke="#111" stroke-width="1.2" />
<line x1="322" y1="598.3" x2="322" y2="608.3" stroke="#111" stroke-width="1.2" />
<line x1="319.5" y1="598.3" x2="324.5" y2="598.3" stroke="#111" stroke-width="1.2" />
<line x1="319.5" y1="608.3" x2="324.5" y2="608.3" stroke="#111" stroke-width="1.2" />
<line x1="337" y1="593.2" x2="337" y2="603.2" stroke="#111" stroke-width="1.2" />
<line x1="334.5" y1="593.2" x2="339.5" y2="593.2" stroke="#111" stroke-width="1.2" />
<line x1="334.5" y1="603.2" x2="339.5" y2="603.2" stroke="#111" stroke-width="1.2" />
<line x1="352" y1="582.1" x2="352" y2="594.1" stroke="#111" stroke-width="1.2" />
<line x1="349.5" y1="582.1" x2="354.5" y2="582.1" stroke="#111" stroke-width="1.2" />
<line x1="349.5" y1="594.1" x2="354.5" y2="594.1" stroke="#111" stroke-width="1.2" />
<polyline points="202,672.18 203.9,671.94 205.8,671.68 207.7,671.43 209.59,671.17 211.49,670.9 213.39,670.63 215.29,670.35 217.19,670.07 219.09,669.78 220.99,669.49 222.89,669.19 224.78,668.89 226.68,668.58 228.58,668.26 230.48,667.94 232.38,667.61 234.28,667.28 236.18,666.94 238.08,666.59 239.97,666.24 241.87,665.88 243.77,665.51 245.67,665.14 247.57,664.76 249.47,664.37 251.37,663.97 253.27,663.57 255.16,663.16 257.06,662.74 258.96,662.31 260.86,661.88 262.76,661.43 264.66,660.98 266.56,660.52 268.46,660.05 270.35,659.58 272.25,659.09 274.15,658.59 276.05,658.09 277.95,657.57 279.85,657.05 281.75,656.52 283.65,655.97 285.54,655.42 287.44,654.85 289.34,654.27 291.24,653.69 293.14,653.09 295.04,652.48 296.94,651.86 298.84,651.22 300.73,650.58 302.63,649.92 304.53,649.25 306.43,648.57 308.33,647.87 310.23,647.16 312.13,646.44 314.03,645.7 315.92,644.95 317.82,644.19 319.72,643.41 321.62,642.62 323.52,641.81 325.42,640.98 327.32,640.14 329.22,639.29 331.11,638.42 333.01,637.53 334.91,636.62 336.81,635.7 338.71,634.76 340.61,633.8 342.51,632.82 344.41,631.83 346.3,630.82 348.2,629.78 350.1,628.73 352,627.66" fill="none" stroke="#111" stroke-width="1.3" stroke-linejoin="round"/>
<polyline points="202,673.35 203.9,672.86 205.8,672.35 207.7,671.82 209.59,671.28 211.49,670.71 213.39,670.14 215.29,669.54 217.19,668.92 219.09,668.29 220.99,667.64 222.89,666.97 224.78,666.28 226.68,665.57 228.58,664.84 230.48,664.09 232.38,663.32 234.28,662.53 236.18,661.72 238.08,660.89 239.97,660.05 241.87,659.18 243.77,658.29 245.67,657.39 247.57,656.46 249.47,655.52 251.37,654.56 253.27,653.58 255.16,652.58 257.06,651.56 258.96,650.53 260.86,649.48 262.76,648.42 264.66,647.34 266.56,646.25 268.46,645.14 270.35,644.02 272.25,642.89 274.15,641.75 276.05,640.6 277.95,639.44 279.85,638.27 281.75,637.09 283.65,635.91 285.54,634.72 287.44,633.53 289.34,632.33 291.24,631.14 293.14,629.94 295.04,628.74 296.94,627.55 298.84,626.36 300.73,625.17 302.63,623.98 304.53,622.8 306.43,621.63 308.33,620.47 310.23,619.31 312.13,618.17 314.03,617.03 315.92,615.91 317.82,614.8 319.72,613.7 321.62,612.62 323.52,611.55 325.42,610.49 327.32,609.46 329.22,608.43 331.11,607.43 333.01,606.44 334.91,605.47 336.81,604.52 338.71,603.59 340.61,602.68 342.51,601.79 344.41,600.91 346.3,600.06 348.2,599.22 350.1,598.41 352,597.61" fill="none" stroke="#111" stroke-width="1.3" stroke-linejoin="round"/>
<polyline points="202,673.85 203.9,673.18 205.8,672.49 207.7,671.78 209.59,671.05 211.49,670.3 213.39,669.54 215.29,668.75 217.19,667.95 219.09,667.13 220.99,666.29 222.89,665.43 224.78,664.55 226.68,663.65 228.58,662.74 230.48,661.81 232.38,660.86 234.28,659.89 236.18,658.91 238.08,657.91 239.97,656.89 241.87,655.86 243.77,654.82 245.67,653.75 247.57,652.68 249.47,651.59 251.37,650.49 253.27,649.38 255.16,648.26 257.06,647.12 258.96,645.98 260.86,644.83 262.76,643.67 264.66,642.5 266.56,641.33 268.46,640.15 270.35,638.97 272.25,637.79 274.15,636.61 276.05,635.42 277.95,634.23 279.85,633.05 281.75,631.86 283.65,630.68 285.54,629.51 287.44,628.34 289.34,627.17 291.24,626.01 293.14,624.86 295.04,623.72 296.94,622.59 298.84,621.47 300.73,620.35 302.63,619.25 304.53,618.17 306.43,617.09 308.33,616.03 310.23,614.99 312.13,613.96 314.03,612.94 315.92,611.95 317.82,610.96 319.72,610 321.62,609.05 323.52,608.12 325.42,607.21 327.32,606.31 329.22,605.44 331.11,604.58 333.01,603.74 334.91,602.92 336.81,602.12 338.71,601.33 340.61,600.57 342.51,599.82 344.41,599.1 346.3,598.39 348.2,597.7 350.1,597.03 352,596.37" fill="none" stroke="#111" stroke-width="1.3" stroke-linejoin="round"/>
<polyline points="202,673.64 203.9,673.01 205.8,672.37 207.7,671.69 209.59,670.98 211.49,670.24 213.39,669.48 215.29,668.68 217.19,667.85 219.09,666.98 220.99,666.09 222.89,665.16 224.78,664.2 226.68,663.21 228.58,662.19 230.48,661.13 232.38,660.04 234.28,658.92 236.18,657.76 238.08,656.58 239.97,655.37 241.87,654.13 243.77,652.86 245.67,651.56 247.57,650.24 249.47,648.9 251.37,647.53 253.27,646.15 255.16,644.74 257.06,643.32 258.96,641.89 260.86,640.45 262.76,639 264.66,637.54 266.56,636.07 268.46,634.61 270.35,633.15 272.25,631.69 274.15,630.23 276.05,628.79 277.95,627.35 279.85,625.93 281.75,624.52 283.65,623.13 285.54,621.75 287.44,620.4 289.34,619.08 291.24,617.77 293.14,616.49 295.04,615.24 296.94,614.02 298.84,612.83 300.73,611.66 302.63,610.53 304.53,609.43 306.43,608.36 308.33,607.33 310.23,606.32 312.13,605.35 314.03,604.41 315.92,603.51 317.82,602.64 319.72,601.8 321.62,600.99 323.52,600.21 325.42,599.46 327.32,598.74 329.22,598.06 331.11,597.4 333.01,596.77 334.91,596.16 336.81,595.59 338.71,595.04 340.61,594.51 342.51,594.01 344.41,593.53 346.3,593.07 348.2,592.64 350.1,592.22 352,591.83" fill="none" stroke="#111" stroke-width="1.3" stroke-linejoin="round"/>
<circle cx="202" cy="671.3" r="1.98" fill="#fff" stroke="#111" stroke-width="1.2"/>
<circle cx="217" cy="671" r="1.98" fill="#fff" stroke="#111" stroke-width="1.2"/>
<circle cx="232" cy="670" r="1.98" fill="#fff" stroke="#111" stroke-width="1.2"/>
<circle cx="247" cy="665.7" r="1.98" fill="#fff" stroke="#111" stroke-width="1.2"/>
<circle cx="262" cy="659.8" r="1.98" fill="#fff" stroke="#111" stroke-width="1.2"/>
<circle cx="277" cy="655.4" r="1.98" fill="#fff" stroke="#111" stroke-width="1.2"/>
<circle cx="292" cy="651.3" r="1.98" fill="#fff" stroke="#111" stroke-width="1.2"/>
<circle cx="307" cy="648.1" r="1.98" fill="#fff" stroke="#111" stroke-width="1.2"/>
<circle cx="322" cy="644.7" r="1.98" fill="#fff" stroke="#111" stroke-width="1.2"/>
<circle cx="337" cy="640.6" r="1.98" fill="#fff" stroke="#111" stroke-width="1.2"/>
<circle cx="352" cy="623.9" r="1.98" fill="#fff" stroke="#111" stroke-width="1.2"/>
<polygon points="202,668.42 204.88,673.46 199.12,673.46" fill="#111"/>
<polygon points="217,667.72 219.88,672.76 214.12,672.76" fill="#111"/>
<polygon points="232,661.12 234.88,666.16 229.12,666.16" fill="#111"/>
<polygon points="247,655.62 249.88,660.66 244.12,660.66" fill="#111"/>
<polygon points="262,645.82 264.88,650.86 259.12,650.86" fill="#111"/>
<polygon points="277,635.72 279.88,640.76 274.12,640.76" fill="#111"/>
<polygon points="292,625.62 294.88,630.66 289.12,630.66" fill="#111"/>
<polygon points="307,618.12 309.88,623.16 304.12,623.16" fill="#111"/>
<polygon points="322,611.52 324.88,616.56 319.12,616.56" fill="#111"/>
<polygon points="337,604.12 339.88,609.16 334.12,609.16" fill="#111"/>
<polygon points="352,592.32 354.88,597.36 349.12,597.36" fill="#111"/>
<polygon points="202,668.42 204.88,673.46 199.12,673.46" fill="#111"/>
<polygon points="217,667.72 219.88,672.76 214.12,672.76" fill="#111"/>
<polygon points="232,658.62 234.88,663.66 229.12,663.66" fill="#111"/>
<polygon points="247,653.12 249.88,658.16 244.12,658.16" fill="#111"/>
<polygon points="262,638.72 264.88,643.76 259.12,643.76" fill="#111"/>
<polygon points="277,629.72 279.88,634.76 274.12,634.76" fill="#111"/>
<polygon points="292,621.12 294.88,626.16 289.12,626.16" fill="#111"/>
<polygon points="307,615.52 309.88,620.56 304.12,620.56" fill="#111"/>
<polygon points="322,608.12 324.88,613.16 319.12,613.16" fill="#111"/>
<polygon points="337,600.42 339.88,605.46 334.12,605.46" fill="#111"/>
<polygon points="352,591.32 354.88,596.36 349.12,596.36" fill="#111"/>
<circle cx="202" cy="671.3" r="2.43" fill="#111"/>
<circle cx="217" cy="670.6" r="2.43" fill="#111"/>
<circle cx="232" cy="659.5" r="2.43" fill="#111"/>
<circle cx="247" cy="653.8" r="2.43" fill="#111"/>
<circle cx="262" cy="637.6" r="2.43" fill="#111"/>
<circle cx="277" cy="626.5" r="2.43" fill="#111"/>
<circle cx="292" cy="615.4" r="2.43" fill="#111"/>
<circle cx="307" cy="609.3" r="2.43" fill="#111"/>
<circle cx="322" cy="603.3" r="2.43" fill="#111"/>
<circle cx="337" cy="598.2" r="2.43" fill="#111"/>
<circle cx="352" cy="588.1" r="2.43" fill="#111"/>
<line x1="361.6" y1="587" x2="361.6" y2="627" stroke="#111" stroke-width="1.3" />
<circle cx="366.45" cy="606.8" r="1.5" fill="#111"/>
<circle cx="370.7" cy="606.8" r="1.5" fill="#111"/>
<circle cx="374.95" cy="606.8" r="1.5" fill="#111"/>
<circle cx="179.3" cy="564.5" r="2.43" fill="#111"/>
<text x="185.3" y="570.5" font-size="11" textLength="34.5" lengthAdjust="spacingAndGlyphs" fill="#111">Control</text>
<circle cx="179.3" cy="578.8" r="1.98" fill="#fff" stroke="#111" stroke-width="1.2"/>
<text x="185.3" y="584.8" font-size="11" textLength="57.8" lengthAdjust="spacingAndGlyphs" fill="#111">Neutropenic</text>
<polygon points="179.3,590.9 181.7,595.1 176.9,595.1" fill="#111"/>
<text x="185.3" y="599.3" font-size="11" fill="#111">Control + 1400W</text>
<polygon points="179.3,606.2 181.4,609.88 177.2,609.88" fill="#fff" stroke="#111" stroke-width="1.1" stroke-linejoin="miter"/>
<text x="185.3" y="614.3" font-size="11" fill="#111">Neutropenic + 1400W</text>
</svg></body></html>
